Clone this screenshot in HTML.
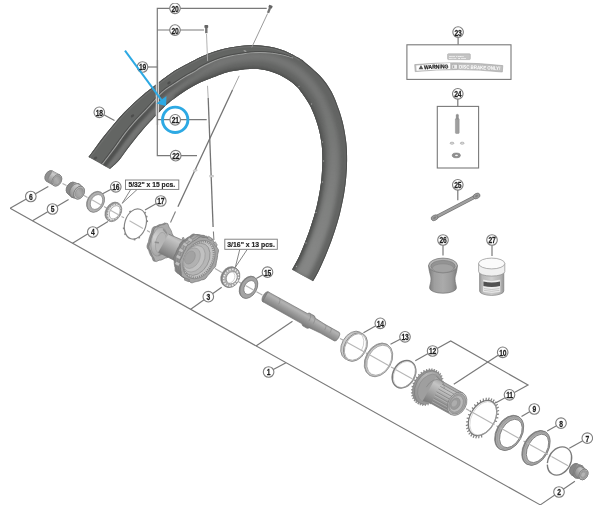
<!DOCTYPE html>
<html><head><meta charset="utf-8"><title>Wheel exploded view</title>
<style>
html,body{margin:0;padding:0;background:#fff;}
svg{display:block}
.n{font-family:"Liberation Sans",sans-serif;font-weight:bold;fill:#1e1e1e;stroke:#1e1e1e;stroke-width:0.25px;letter-spacing:-0.3px}
.t{font-family:"Liberation Sans",sans-serif;font-weight:bold;fill:#222;stroke:#222;stroke-width:0.2px}
</style></head><body>
<svg width="600" height="511" viewBox="0 0 600 511">
<rect width="600" height="511" fill="#fff"/>
<defs><filter id="softrim" color-interpolation-filters="sRGB" x="0" y="0" width="100%" height="100%"><feGaussianBlur stdDeviation="0.45"/><feComponentTransfer><feFuncR type="linear" slope="0.9" intercept="0.12"/><feFuncG type="linear" slope="0.9" intercept="0.125"/><feFuncB type="linear" slope="0.9" intercept="0.12"/></feComponentTransfer></filter><filter id="soft" color-interpolation-filters="sRGB" x="0" y="0" width="100%" height="100%"><feGaussianBlur stdDeviation="0.5"/><feComponentTransfer><feFuncR type="linear" slope="0.82" intercept="0.18"/><feFuncG type="linear" slope="0.82" intercept="0.18"/><feFuncB type="linear" slope="0.82" intercept="0.18"/></feComponentTransfer></filter><filter id="softtxt" color-interpolation-filters="sRGB" x="-5%" y="-5%" width="110%" height="110%"><feGaussianBlur stdDeviation="0.4"/></filter></defs>
<g filter="url(#softrim)">
<defs><clipPath id="rimclip"><path d="M88.5,157.0 C89.5,155.7 91.7,152.7 94.3,149.2 C96.9,145.7 100.8,140.3 104.1,136.1 C107.4,131.9 110.6,127.9 114.0,124.0 C117.3,120.1 120.7,116.1 124.1,112.6 C127.4,109.0 130.6,105.9 133.9,102.9 C137.1,99.9 141.0,96.7 143.6,94.5 C146.1,92.3 146.9,91.8 149.4,89.8 C151.9,87.8 156.0,84.4 158.6,82.4 C161.1,80.4 162.0,79.6 164.8,77.7 C167.5,75.7 171.7,72.7 175.0,70.5 C178.4,68.4 181.6,66.7 185.0,64.9 C188.3,63.1 192.4,61.2 194.9,59.9 C197.5,58.6 197.6,58.4 200.1,57.3 C202.7,56.1 206.9,54.2 210.2,53.0 C213.6,51.7 216.9,50.7 220.2,49.8 C223.5,48.9 226.8,48.1 230.2,47.4 C233.5,46.8 236.8,46.3 240.1,45.9 C243.4,45.6 246.7,45.2 250.0,45.2 C253.3,45.1 256.6,45.2 260.0,45.5 C263.3,45.7 266.6,46.1 270.0,46.8 C273.3,47.4 276.7,48.2 280.0,49.3 C283.4,50.4 286.9,51.8 290.3,53.4 C293.7,55.0 298.2,57.6 300.5,59.0 C302.8,60.4 300.7,58.6 304.0,61.5 C307.3,64.4 315.9,71.2 320.5,76.3 C325.1,81.3 328.5,86.2 331.6,91.7 C334.7,97.3 337.0,104.1 339.0,109.8 C341.0,115.5 342.4,120.4 343.6,126.0 C344.8,131.6 345.8,137.7 346.4,143.3 C347.0,149.0 347.1,154.4 347.1,160.0 C347.1,165.6 346.8,171.3 346.3,176.7 C345.9,182.0 345.2,187.0 344.4,192.0 C343.6,197.0 342.7,201.5 341.5,206.7 C340.4,211.9 339.0,217.7 337.3,223.3 C335.7,228.8 333.8,234.4 331.8,240.0 C329.7,245.6 327.4,251.5 325.2,256.8 C322.9,262.1 320.4,267.7 318.4,271.7 C316.3,275.8 313.9,279.6 313.0,281.2 L292.2,269.7 C293.3,267.5 296.8,261.6 299.1,256.6 C301.3,251.7 303.8,245.6 305.9,240.1 C308.1,234.5 310.1,228.9 311.8,223.3 C313.6,217.8 315.3,212.2 316.6,206.7 C317.9,201.1 319.1,195.0 319.9,190.0 C320.7,185.0 321.2,181.7 321.6,176.7 C322.0,171.7 322.4,165.6 322.4,160.0 C322.4,154.4 322.2,149.0 321.5,143.3 C320.7,137.6 319.7,132.0 317.9,125.9 C316.0,119.8 313.4,112.4 310.5,106.5 C307.5,100.6 302.5,93.9 300.0,90.5 C297.6,87.1 297.6,87.6 295.9,86.1 C294.2,84.5 292.6,82.9 289.9,81.1 C287.3,79.3 283.3,76.8 279.9,75.1 C276.6,73.5 273.3,72.3 269.9,71.3 C266.6,70.3 263.3,69.7 260.0,69.3 C256.6,68.9 253.3,68.8 250.0,68.9 C246.7,69.0 243.3,69.4 239.9,69.9 C236.6,70.3 233.3,70.7 229.9,71.5 C226.6,72.3 222.3,73.8 219.8,74.7 C217.3,75.5 217.2,75.7 214.7,76.7 C212.2,77.6 208.2,79.0 204.9,80.4 C201.7,81.7 198.5,83.2 195.2,84.9 C192.0,86.7 188.7,88.6 185.4,90.7 C182.2,92.8 178.1,95.7 175.5,97.7 C172.9,99.6 171.6,100.5 169.6,102.2 C167.6,103.9 165.6,105.6 163.3,107.9 C161.0,110.1 158.2,113.1 155.7,115.7 C153.2,118.3 151.4,120.2 148.4,123.5 C145.5,126.7 141.6,131.1 138.2,135.3 C134.8,139.4 131.3,144.0 128.0,148.3 C124.8,152.5 121.7,157.3 118.7,160.8 C115.7,164.2 111.4,167.6 110.0,169.0 Z"/></clipPath><filter id="b2" color-interpolation-filters="sRGB" x="-20%" y="-20%" width="140%" height="140%"><feGaussianBlur stdDeviation="2"/></filter><filter id="b1" color-interpolation-filters="sRGB" x="-20%" y="-20%" width="140%" height="140%"><feGaussianBlur stdDeviation="1"/></filter><filter id="b05" color-interpolation-filters="sRGB"><feGaussianBlur stdDeviation="0.4"/></filter></defs>
<path d="M88.5,157.0 C89.5,155.7 91.7,152.7 94.3,149.2 C96.9,145.7 100.8,140.3 104.1,136.1 C107.4,131.9 110.6,127.9 114.0,124.0 C117.3,120.1 120.7,116.1 124.1,112.6 C127.4,109.0 130.6,105.9 133.9,102.9 C137.1,99.9 141.0,96.7 143.6,94.5 C146.1,92.3 146.9,91.8 149.4,89.8 C151.9,87.8 156.0,84.4 158.6,82.4 C161.1,80.4 162.0,79.6 164.8,77.7 C167.5,75.7 171.7,72.7 175.0,70.5 C178.4,68.4 181.6,66.7 185.0,64.9 C188.3,63.1 192.4,61.2 194.9,59.9 C197.5,58.6 197.6,58.4 200.1,57.3 C202.7,56.1 206.9,54.2 210.2,53.0 C213.6,51.7 216.9,50.7 220.2,49.8 C223.5,48.9 226.8,48.1 230.2,47.4 C233.5,46.8 236.8,46.3 240.1,45.9 C243.4,45.6 246.7,45.2 250.0,45.2 C253.3,45.1 256.6,45.2 260.0,45.5 C263.3,45.7 266.6,46.1 270.0,46.8 C273.3,47.4 276.7,48.2 280.0,49.3 C283.4,50.4 286.9,51.8 290.3,53.4 C293.7,55.0 298.2,57.6 300.5,59.0 C302.8,60.4 300.7,58.6 304.0,61.5 C307.3,64.4 315.9,71.2 320.5,76.3 C325.1,81.3 328.5,86.2 331.6,91.7 C334.7,97.3 337.0,104.1 339.0,109.8 C341.0,115.5 342.4,120.4 343.6,126.0 C344.8,131.6 345.8,137.7 346.4,143.3 C347.0,149.0 347.1,154.4 347.1,160.0 C347.1,165.6 346.8,171.3 346.3,176.7 C345.9,182.0 345.2,187.0 344.4,192.0 C343.6,197.0 342.7,201.5 341.5,206.7 C340.4,211.9 339.0,217.7 337.3,223.3 C335.7,228.8 333.8,234.4 331.8,240.0 C329.7,245.6 327.4,251.5 325.2,256.8 C322.9,262.1 320.4,267.7 318.4,271.7 C316.3,275.8 313.9,279.6 313.0,281.2 L292.2,269.7 C293.3,267.5 296.8,261.6 299.1,256.6 C301.3,251.7 303.8,245.6 305.9,240.1 C308.1,234.5 310.1,228.9 311.8,223.3 C313.6,217.8 315.3,212.2 316.6,206.7 C317.9,201.1 319.1,195.0 319.9,190.0 C320.7,185.0 321.2,181.7 321.6,176.7 C322.0,171.7 322.4,165.6 322.4,160.0 C322.4,154.4 322.2,149.0 321.5,143.3 C320.7,137.6 319.7,132.0 317.9,125.9 C316.0,119.8 313.4,112.4 310.5,106.5 C307.5,100.6 302.5,93.9 300.0,90.5 C297.6,87.1 297.6,87.6 295.9,86.1 C294.2,84.5 292.6,82.9 289.9,81.1 C287.3,79.3 283.3,76.8 279.9,75.1 C276.6,73.5 273.3,72.3 269.9,71.3 C266.6,70.3 263.3,69.7 260.0,69.3 C256.6,68.9 253.3,68.8 250.0,68.9 C246.7,69.0 243.3,69.4 239.9,69.9 C236.6,70.3 233.3,70.7 229.9,71.5 C226.6,72.3 222.3,73.8 219.8,74.7 C217.3,75.5 217.2,75.7 214.7,76.7 C212.2,77.6 208.2,79.0 204.9,80.4 C201.7,81.7 198.5,83.2 195.2,84.9 C192.0,86.7 188.7,88.6 185.4,90.7 C182.2,92.8 178.1,95.7 175.5,97.7 C172.9,99.6 171.6,100.5 169.6,102.2 C167.6,103.9 165.6,105.6 163.3,107.9 C161.0,110.1 158.2,113.1 155.7,115.7 C153.2,118.3 151.4,120.2 148.4,123.5 C145.5,126.7 141.6,131.1 138.2,135.3 C134.8,139.4 131.3,144.0 128.0,148.3 C124.8,152.5 121.7,157.3 118.7,160.8 C115.7,164.2 111.4,167.6 110.0,169.0 Z" fill="#4c4c4c"/>
<g clip-path="url(#rimclip)">
<path d="M106.1,166.8 C106.8,166.2 108.7,164.2 110.0,162.9 C111.2,161.6 112.6,160.3 113.8,158.9 C115.0,157.5 116.1,156.0 117.2,154.6 C118.3,153.1 119.4,151.6 120.5,150.1 C121.6,148.6 122.7,147.1 123.8,145.7 C124.9,144.2 126.1,142.7 127.2,141.3 C128.3,139.8 129.5,138.3 130.6,136.9 C131.8,135.4 132.9,134.0 134.1,132.5 C135.2,131.1 136.4,129.7 137.6,128.3 C138.8,126.9 140.1,125.5 141.3,124.1 C142.5,122.7 143.8,121.3 145.0,120.0 C146.2,118.6 147.6,117.3 148.8,115.9 C150.0,114.5 151.2,112.9 152.4,111.5 C153.7,110.0 154.9,108.6 156.2,107.2 C157.4,105.7 158.7,104.3 160.0,102.8 C161.3,101.4 162.6,100.0 164.0,98.7 C165.4,97.3 166.7,95.9 168.1,94.6 C169.6,93.3 171.0,92.0 172.5,90.7 C174.0,89.4 175.5,88.2 177.0,87.0 C178.5,85.7 180.0,84.5 181.6,83.3 C183.2,82.1 184.8,81.0 186.4,79.9 C188.0,78.7 189.7,77.7 191.3,76.6 C193.0,75.5 194.7,74.5 196.4,73.4 C198.1,72.4 199.8,71.4 201.5,70.5 C203.3,69.6 205.1,68.8 206.9,68.0 C208.7,67.2 210.5,66.5 212.3,65.7 C214.1,65.0 215.9,64.3 217.8,63.6 C219.6,62.9 221.5,62.3 223.4,61.7 C225.2,61.1 227.1,60.5 229.0,60.0 C230.9,59.5 232.8,59.1 234.8,58.7 C236.7,58.3 238.6,58.0 240.6,57.7 C242.5,57.4 244.5,57.1 246.5,56.9 C248.4,56.7 250.4,56.6 252.4,56.5 C254.3,56.4 256.3,56.5 258.3,56.5 C260.3,56.6 262.3,56.6 264.2,56.9 C266.2,57.1 268.1,57.5 270.0,58.0 C271.9,58.4 273.8,58.8 275.7,59.4 C277.5,60.1 279.3,60.9 281.1,61.7 C282.9,62.4 284.7,63.2 286.5,64.0 C288.2,64.9 289.9,66.0 291.5,67.0 C293.2,68.1 294.9,69.0 296.5,70.2 C298.0,71.3 299.5,72.7 300.9,74.0 C302.4,75.3 303.8,76.6 305.2,78.0 C306.6,79.4 308.0,80.8 309.2,82.2 C310.5,83.7 311.7,85.2 312.9,86.8 C314.0,88.4 315.0,90.1 316.1,91.7 C317.2,93.3 318.4,94.9 319.3,96.6 C320.3,98.3 321.2,100.0 322.0,101.8 C322.8,103.5 323.4,105.4 324.1,107.2 C324.8,109.1 325.5,110.9 326.2,112.7 C326.9,114.5 327.6,116.3 328.2,118.2 C328.8,120.1 329.1,122.0 329.6,123.9 C330.1,125.8 330.5,127.7 330.9,129.6 C331.3,131.5 331.8,133.4 332.1,135.3 C332.4,137.2 332.6,139.2 332.8,141.1 C333.0,143.0 333.2,145.0 333.4,146.9 C333.5,148.9 333.6,150.8 333.7,152.7 C333.7,154.7 333.7,156.6 333.7,158.6 C333.7,160.5 333.7,162.5 333.6,164.4 C333.5,166.3 333.4,168.3 333.3,170.2 C333.1,172.2 333.0,174.1 332.9,176.0 C332.7,178.0 332.4,179.9 332.2,181.8 C331.9,183.7 331.6,185.7 331.4,187.6 C331.1,189.5 330.8,191.4 330.4,193.3 C330.1,195.2 329.7,197.1 329.3,199.0 C329.0,200.9 328.6,202.8 328.2,204.7 C327.8,206.6 327.3,208.4 326.8,210.3 C326.4,212.2 325.8,214.0 325.3,215.9 C324.8,217.8 324.4,219.6 323.8,221.5 C323.3,223.3 322.7,225.2 322.1,227.0 C321.4,228.8 320.8,230.7 320.2,232.5 C319.5,234.3 318.9,236.2 318.3,238.0 C317.6,239.8 316.9,241.6 316.2,243.4 C315.5,245.2 314.8,247.0 314.1,248.8 C313.3,250.6 312.6,252.3 311.8,254.1 C311.1,255.9 310.3,257.7 309.5,259.4 C308.7,261.2 307.9,262.9 307.0,264.7 C306.2,266.4 305.2,268.1 304.3,269.8 C303.4,271.5 302.0,274.0 301.6,274.9 " fill="none" stroke="#606060" stroke-width="9" filter="url(#b2)"/>
<linearGradient id="gend" gradientUnits="userSpaceOnUse" x1="0" y1="100" x2="0" y2="250"><stop offset="0" stop-color="#727272" stop-opacity="0"/><stop offset="1" stop-color="#727272" stop-opacity="1"/></linearGradient>
<path d="M291.5,67.0 C292.3,67.6 294.9,69.0 296.5,70.2 C298.0,71.3 299.5,72.7 300.9,74.0 C302.4,75.3 303.8,76.6 305.2,78.0 C306.6,79.4 308.0,80.8 309.2,82.2 C310.5,83.7 311.7,85.2 312.9,86.8 C314.0,88.4 315.0,90.1 316.1,91.7 C317.2,93.3 318.4,94.9 319.3,96.6 C320.3,98.3 321.2,100.0 322.0,101.8 C322.8,103.5 323.4,105.4 324.1,107.2 C324.8,109.1 325.5,110.9 326.2,112.7 C326.9,114.5 327.6,116.3 328.2,118.2 C328.8,120.1 329.1,122.0 329.6,123.9 C330.1,125.8 330.5,127.7 330.9,129.6 C331.3,131.5 331.8,133.4 332.1,135.3 C332.4,137.2 332.6,139.2 332.8,141.1 C333.0,143.0 333.2,145.0 333.4,146.9 C333.5,148.9 333.6,150.8 333.7,152.7 C333.7,154.7 333.7,156.6 333.7,158.6 C333.7,160.5 333.7,162.5 333.6,164.4 C333.5,166.3 333.4,168.3 333.3,170.2 C333.1,172.2 333.0,174.1 332.9,176.0 C332.7,178.0 332.4,179.9 332.2,181.8 C331.9,183.7 331.6,185.7 331.4,187.6 C331.1,189.5 330.8,191.4 330.4,193.3 C330.1,195.2 329.7,197.1 329.3,199.0 C329.0,200.9 328.6,202.8 328.2,204.7 C327.8,206.6 327.3,208.4 326.8,210.3 C326.4,212.2 325.8,214.0 325.3,215.9 C324.8,217.8 324.4,219.6 323.8,221.5 C323.3,223.3 322.7,225.2 322.1,227.0 C321.4,228.8 320.8,230.7 320.2,232.5 C319.5,234.3 318.9,236.2 318.3,238.0 C317.6,239.8 316.9,241.6 316.2,243.4 C315.5,245.2 314.8,247.0 314.1,248.8 C313.3,250.6 312.6,252.3 311.8,254.1 C311.1,255.9 310.3,257.7 309.5,259.4 C308.7,261.2 307.9,262.9 307.0,264.7 C306.2,266.4 305.2,268.1 304.3,269.8 C303.4,271.5 302.0,274.0 301.6,274.9 " fill="none" stroke="url(#gend)" stroke-width="13" filter="url(#b2)"/>
<path d="M175.5,97.7 C177.2,96.5 182.2,92.8 185.4,90.7 C188.7,88.6 192.0,86.7 195.2,84.9 C198.5,83.2 201.7,81.7 204.9,80.4 C208.2,79.0 212.2,77.6 214.7,76.7 C217.2,75.7 217.3,75.5 219.8,74.7 C222.3,73.8 226.6,72.3 229.9,71.5 C233.3,70.7 236.6,70.3 239.9,69.9 C243.3,69.4 246.7,69.0 250.0,68.9 C253.3,68.8 256.6,68.9 260.0,69.3 C263.3,69.7 266.6,70.3 269.9,71.3 C273.3,72.3 276.6,73.5 279.9,75.1 C283.3,76.8 287.3,79.3 289.9,81.1 C292.6,82.9 294.2,84.5 295.9,86.1 C297.6,87.6 297.6,87.1 300.0,90.5 C302.5,93.9 307.5,100.6 310.5,106.5 C313.4,112.4 316.0,119.8 317.9,125.9 C319.7,132.0 320.7,137.6 321.5,143.3 C322.2,149.0 322.4,154.4 322.4,160.0 C322.4,165.6 322.0,171.7 321.6,176.7 C321.2,181.7 320.7,185.0 319.9,190.0 C319.1,195.0 317.9,201.1 316.6,206.7 C315.3,212.2 313.6,217.8 311.8,223.3 C310.1,228.9 308.1,234.5 305.9,240.1 C303.8,245.6 301.3,251.7 299.1,256.6 C296.8,261.6 293.3,267.5 292.2,269.7 " fill="none" stroke="#3c3c3c" stroke-width="4.5" filter="url(#b1)"/>
<linearGradient id="gfade" gradientUnits="userSpaceOnUse" x1="130" y1="0" x2="215" y2="0"><stop offset="0" stop-color="#363636" stop-opacity="1"/><stop offset="1" stop-color="#363636" stop-opacity="0"/></linearGradient>
<path d="M101.5,163.5 C103.6,160.8 110.2,152.1 114.0,147.0 C117.8,141.9 120.7,137.3 124.0,133.0 C127.3,128.7 130.7,124.8 134.0,121.0 C137.3,117.2 140.5,114.2 144.0,110.5 C147.5,106.8 152.5,101.3 155.0,98.5 C157.5,95.7 157.3,95.5 159.0,93.8 C160.7,92.1 162.3,90.5 165.0,88.5 C167.7,86.5 171.7,84.2 175.0,82.0 C178.3,79.8 181.7,77.5 185.0,75.5 C188.3,73.5 192.5,71.5 195.0,70.0 C197.5,68.5 197.5,67.9 200.0,66.5 C202.5,65.1 206.7,63.0 210.0,61.5 C213.3,60.0 218.3,58.3 220.0,57.7 " fill="none" stroke="url(#gfade)" stroke-width="5" transform="translate(2.2,2.4)" filter="url(#b1)"/>
<path d="M88.5,157.0 C89.5,155.7 91.7,152.7 94.3,149.2 C96.9,145.7 100.8,140.3 104.1,136.1 C107.4,131.9 110.6,127.9 114.0,124.0 C117.3,120.1 120.7,116.1 124.1,112.6 C127.4,109.0 130.6,105.9 133.9,102.9 C137.1,99.9 141.0,96.7 143.6,94.5 C146.1,92.3 146.9,91.8 149.4,89.8 C151.9,87.8 156.0,84.4 158.6,82.4 C161.1,80.4 162.0,79.6 164.8,77.7 C167.5,75.7 171.7,72.7 175.0,70.5 C178.4,68.4 181.6,66.7 185.0,64.9 C188.3,63.1 192.4,61.2 194.9,59.9 C197.5,58.6 197.6,58.4 200.1,57.3 C202.7,56.1 206.9,54.2 210.2,53.0 C213.6,51.7 216.9,50.7 220.2,49.8 C223.5,48.9 226.8,48.1 230.2,47.4 C233.5,46.8 236.8,46.3 240.1,45.9 C243.4,45.6 246.7,45.2 250.0,45.2 C253.3,45.1 256.6,45.2 260.0,45.5 C263.3,45.7 266.6,46.1 270.0,46.8 C273.3,47.4 276.7,48.2 280.0,49.3 C283.4,50.4 286.9,51.8 290.3,53.4 C293.7,55.0 298.8,58.1 300.5,59.0 L292.0,57.0 C291.2,56.7 289.0,55.8 287.0,55.2 C285.0,54.6 282.8,54.0 280.0,53.5 C277.2,53.0 273.3,52.3 270.0,52.0 C266.7,51.7 263.3,51.5 260.0,51.5 C256.7,51.5 253.3,51.6 250.0,51.9 C246.7,52.2 243.3,52.8 240.0,53.3 C236.7,53.8 233.3,54.3 230.0,55.0 C226.7,55.7 223.3,56.6 220.0,57.7 C216.7,58.8 213.3,60.0 210.0,61.5 C206.7,63.0 202.5,65.1 200.0,66.5 C197.5,67.9 197.5,68.5 195.0,70.0 C192.5,71.5 188.3,73.5 185.0,75.5 C181.7,77.5 178.3,79.8 175.0,82.0 C171.7,84.2 167.7,86.5 165.0,88.5 C162.3,90.5 160.7,92.1 159.0,93.8 C157.3,95.5 157.5,95.7 155.0,98.5 C152.5,101.3 147.5,106.8 144.0,110.5 C140.5,114.2 137.3,117.2 134.0,121.0 C130.7,124.8 127.3,128.7 124.0,133.0 C120.7,137.3 117.8,141.9 114.0,147.0 C110.2,152.1 103.6,160.8 101.5,163.5 Z" fill="#4d4d4d"/>
<path d="M88.5,157.0 C89.5,155.7 91.7,152.7 94.3,149.2 C96.9,145.7 100.8,140.3 104.1,136.1 C107.4,131.9 110.6,127.9 114.0,124.0 C117.3,120.1 120.7,116.1 124.1,112.6 C127.4,109.0 130.6,105.9 133.9,102.9 C137.1,99.9 141.0,96.7 143.6,94.5 C146.1,92.3 146.9,91.8 149.4,89.8 C151.9,87.8 156.0,84.4 158.6,82.4 C161.1,80.4 162.0,79.6 164.8,77.7 C167.5,75.7 171.7,72.7 175.0,70.5 C178.4,68.4 181.6,66.7 185.0,64.9 C188.3,63.1 192.4,61.2 194.9,59.9 C197.5,58.6 197.6,58.4 200.1,57.3 C202.7,56.1 206.9,54.2 210.2,53.0 C213.6,51.7 216.9,50.7 220.2,49.8 C223.5,48.9 226.8,48.1 230.2,47.4 C233.5,46.8 236.8,46.3 240.1,45.9 C243.4,45.6 246.7,45.2 250.0,45.2 C253.3,45.1 256.6,45.2 260.0,45.5 C263.3,45.7 266.6,46.1 270.0,46.8 C273.3,47.4 276.7,48.2 280.0,49.3 C283.4,50.4 286.9,51.8 290.3,53.4 C293.7,55.0 298.8,58.1 300.5,59.0 " fill="none" stroke="#5a5a5a" stroke-width="4.2" filter="url(#b05)"/>
<path d="M88.5,157.0 C89.5,155.7 91.7,152.7 94.3,149.2 C96.9,145.7 100.8,140.3 104.1,136.1 C107.4,131.9 110.6,127.9 114.0,124.0 C117.3,120.1 120.7,116.1 124.1,112.6 C127.4,109.0 130.6,105.9 133.9,102.9 C137.1,99.9 141.0,96.7 143.6,94.5 C146.1,92.3 146.9,91.8 149.4,89.8 C151.9,87.8 156.0,84.4 158.6,82.4 C161.1,80.4 162.0,79.6 164.8,77.7 C167.5,75.7 171.7,72.7 175.0,70.5 C178.4,68.4 181.6,66.7 185.0,64.9 C188.3,63.1 192.4,61.2 194.9,59.9 C197.5,58.6 197.6,58.4 200.1,57.3 C202.7,56.1 206.9,54.2 210.2,53.0 C213.6,51.7 216.9,50.7 220.2,49.8 C223.5,48.9 226.8,48.1 230.2,47.4 C233.5,46.8 236.8,46.3 240.1,45.9 C243.4,45.6 246.7,45.2 250.0,45.2 C253.3,45.1 256.6,45.2 260.0,45.5 C263.3,45.7 266.6,46.1 270.0,46.8 C273.3,47.4 276.7,48.2 280.0,49.3 C283.4,50.4 286.9,51.8 290.3,53.4 C293.7,55.0 298.2,57.6 300.5,59.0 C302.8,60.4 300.7,58.6 304.0,61.5 C307.3,64.4 315.9,71.2 320.5,76.3 C325.1,81.3 328.5,86.2 331.6,91.7 C334.7,97.3 337.0,104.1 339.0,109.8 C341.0,115.5 342.4,120.4 343.6,126.0 C344.8,131.6 345.8,137.7 346.4,143.3 C347.0,149.0 347.1,154.4 347.1,160.0 C347.1,165.6 346.8,171.3 346.3,176.7 C345.9,182.0 345.2,187.0 344.4,192.0 C343.6,197.0 342.7,201.5 341.5,206.7 C340.4,211.9 339.0,217.7 337.3,223.3 C335.7,228.8 333.8,234.4 331.8,240.0 C329.7,245.6 327.4,251.5 325.2,256.8 C322.9,262.1 320.4,267.7 318.4,271.7 C316.3,275.8 313.9,279.6 313.0,281.2 " fill="none" stroke="#343434" stroke-width="1.8" filter="url(#b05)"/>
<path d="M101.5,163.5 C103.6,160.8 110.2,152.1 114.0,147.0 C117.8,141.9 120.7,137.3 124.0,133.0 C127.3,128.7 130.7,124.8 134.0,121.0 C137.3,117.2 140.5,114.2 144.0,110.5 C147.5,106.8 152.5,101.3 155.0,98.5 C157.5,95.7 157.3,95.5 159.0,93.8 C160.7,92.1 162.3,90.5 165.0,88.5 C167.7,86.5 171.7,84.2 175.0,82.0 C178.3,79.8 181.7,77.5 185.0,75.5 C188.3,73.5 192.5,71.5 195.0,70.0 C197.5,68.5 197.5,67.9 200.0,66.5 C202.5,65.1 206.7,63.0 210.0,61.5 C213.3,60.0 216.7,58.8 220.0,57.7 C223.3,56.6 226.7,55.7 230.0,55.0 C233.3,54.3 236.7,53.8 240.0,53.3 C243.3,52.8 246.7,52.2 250.0,51.9 C253.3,51.6 256.7,51.5 260.0,51.5 C263.3,51.5 266.7,51.7 270.0,52.0 C273.3,52.3 277.2,53.0 280.0,53.5 C282.8,54.0 285.0,54.6 287.0,55.2 C289.0,55.8 291.2,56.7 292.0,57.0 " fill="none" stroke="#8c8c8c" stroke-width="1.1" transform="translate(0.8,0.9)" filter="url(#b05)"/>
<path d="M101.5,163.5 C103.6,160.8 110.2,152.1 114.0,147.0 C117.8,141.9 120.7,137.3 124.0,133.0 C127.3,128.7 130.7,124.8 134.0,121.0 C137.3,117.2 140.5,114.2 144.0,110.5 C147.5,106.8 152.5,101.3 155.0,98.5 C157.5,95.7 157.3,95.5 159.0,93.8 C160.7,92.1 162.3,90.5 165.0,88.5 C167.7,86.5 171.7,84.2 175.0,82.0 C178.3,79.8 181.7,77.5 185.0,75.5 C188.3,73.5 192.5,71.5 195.0,70.0 C197.5,68.5 197.5,67.9 200.0,66.5 C202.5,65.1 206.7,63.0 210.0,61.5 C213.3,60.0 216.7,58.8 220.0,57.7 C223.3,56.6 226.7,55.7 230.0,55.0 C233.3,54.3 236.7,53.8 240.0,53.3 C243.3,52.8 246.7,52.2 250.0,51.9 C253.3,51.6 256.7,51.5 260.0,51.5 C263.3,51.5 266.7,51.7 270.0,52.0 C273.3,52.3 277.2,53.0 280.0,53.5 C282.8,54.0 285.0,54.6 287.0,55.2 C289.0,55.8 291.2,56.7 292.0,57.0 " fill="none" stroke="#333" stroke-width="1.0" filter="url(#b05)"/>
<path d="M110.0,169.0 C111.4,167.6 115.7,164.2 118.7,160.8 C121.7,157.3 124.8,152.5 128.0,148.3 C131.3,144.0 134.8,139.4 138.2,135.3 C141.6,131.1 145.5,126.7 148.4,123.5 C151.4,120.2 153.2,118.3 155.7,115.7 C158.2,113.1 161.0,110.1 163.3,107.9 C165.6,105.6 167.6,103.9 169.6,102.2 C171.6,100.5 172.9,99.6 175.5,97.7 C178.1,95.7 182.2,92.8 185.4,90.7 C188.7,88.6 192.0,86.7 195.2,84.9 C198.5,83.2 201.7,81.7 204.9,80.4 C208.2,79.0 212.2,77.6 214.7,76.7 C217.2,75.7 217.3,75.5 219.8,74.7 C222.3,73.8 226.6,72.3 229.9,71.5 C233.3,70.7 236.6,70.3 239.9,69.9 C243.3,69.4 246.7,69.0 250.0,68.9 C253.3,68.8 256.6,68.9 260.0,69.3 C263.3,69.7 266.6,70.3 269.9,71.3 C273.3,72.3 276.6,73.5 279.9,75.1 C283.3,76.8 287.3,79.3 289.9,81.1 C292.6,82.9 294.2,84.5 295.9,86.1 C297.6,87.6 297.6,87.1 300.0,90.5 C302.5,93.9 307.5,100.6 310.5,106.5 C313.4,112.4 316.0,119.8 317.9,125.9 C319.7,132.0 320.7,137.6 321.5,143.3 C322.2,149.0 322.4,154.4 322.4,160.0 C322.4,165.6 322.0,171.7 321.6,176.7 C321.2,181.7 320.7,185.0 319.9,190.0 C319.1,195.0 317.9,201.1 316.6,206.7 C315.3,212.2 313.6,217.8 311.8,223.3 C310.1,228.9 308.1,234.5 305.9,240.1 C303.8,245.6 301.3,251.7 299.1,256.6 C296.8,261.6 293.3,267.5 292.2,269.7 " fill="none" stroke="#363636" stroke-width="1.6" filter="url(#b05)"/>
<circle cx="322.5" cy="142.0" r="0.7" fill="#8a8a8a"/>
<circle cx="323.5" cy="161.0" r="0.7" fill="#8a8a8a"/>
<circle cx="322.5" cy="182.0" r="0.7" fill="#8a8a8a"/>
<circle cx="316.0" cy="212.5" r="0.7" fill="#8a8a8a"/>
<circle cx="306.0" cy="243.0" r="0.7" fill="#8a8a8a"/>
<circle cx="296.5" cy="266.5" r="0.7" fill="#8a8a8a"/>
<circle cx="311.5" cy="104.0" r="0.7" fill="#8a8a8a"/>
<circle cx="299.0" cy="86.5" r="0.7" fill="#8a8a8a"/>
</g>
<ellipse cx="95.5" cy="158.0" rx="1.9" ry="1.3" fill="#343434" transform="rotate(-35 95.5 158.0)"/>
<ellipse cx="132.5" cy="115.8" rx="1.9" ry="1.3" fill="#343434" transform="rotate(-35 132.5 115.8)"/>
<ellipse cx="169.0" cy="82.8" rx="1.9" ry="1.3" fill="#343434" transform="rotate(-35 169.0 82.8)"/>
<ellipse cx="245" cy="51" rx="1.6" ry="0.7" fill="#888" transform="rotate(25 245 51)"/>
</g><g filter="url(#soft)">
<path d="M267.6,13.5 L251.7,47.5 " fill="none" stroke="#777" stroke-width="0.9" />
<path d="M206.5,34.0 L207.6,61.0 " fill="none" stroke="#999" stroke-width="0.9" />
<path d="M239.2,75.8 L232.5,90.0 " fill="none" stroke="#666" stroke-width="0.7" />
<path d="M232.5,90.0 L177.9,206.7 " fill="none" stroke="#555" stroke-width="1.3" />
<path d="M175.5,211.5 L170.5,222.5 " fill="none" stroke="#666" stroke-width="1.1" />
<path d="M207.5,85.8 L208.2,98.0 " fill="none" stroke="#777" stroke-width="0.7" />
<path d="M208.2,98.0 L213.1,227.0 " fill="none" stroke="#555" stroke-width="1.3" />
<path d="M213.4,231.5 L213.9,240.0 " fill="none" stroke="#666" stroke-width="1.1" />
<rect x="209.8" y="175.2" width="3.6" height="1.8" fill="#ccc" stroke="#999" stroke-width="0.4"/>
<rect x="193.4" y="169.6" width="3.6" height="1.8" fill="#ccc" stroke="#999" stroke-width="0.4" transform="rotate(-25 195.2 170.5)"/>
<g transform="translate(206.3 29.0) rotate(0)"><rect x="-1.9" y="-4" width="3.8" height="3" rx="0.8" fill="#444"/><rect x="-1.2" y="-1.2" width="2.4" height="5.4" fill="#555"/></g>
<g transform="translate(269.6 9.0) rotate(22)"><rect x="-1.9" y="-4" width="3.8" height="3" rx="0.8" fill="#444"/><rect x="-1.2" y="-1.2" width="2.4" height="5.4" fill="#555"/></g>
<path d="M10.1,208.3 L540.3,504.9 L574.9,481.3 " fill="none" stroke="#5c5c5c" stroke-width="1.2" />
<path d="M10.1,208.3 L48.3,186.6 " fill="none" stroke="#5c5c5c" stroke-width="1.2" />
<path d="M32.5,220.8 L68.6,199.6 " fill="none" stroke="#5c5c5c" stroke-width="1.2" />
<path d="M72.5,243.2 L108.0,221.5 " fill="none" stroke="#5c5c5c" stroke-width="1.2" />
<path d="M190.7,309.3 L221.7,287.3 " fill="none" stroke="#5c5c5c" stroke-width="1.2" />
<path d="M256.0,345.9 L292.5,321.3 " fill="none" stroke="#5c5c5c" stroke-width="1.2" />
<path d="M286.0,362.7 L268.6,372.0 " fill="none" stroke="#5c5c5c" stroke-width="1.2" />
<path d="M405.0,336.8 L390.5,344.3 " fill="none" stroke="#5c5c5c" stroke-width="1.2" />
<path d="M380.3,323.3 L363.5,332.7 " fill="none" stroke="#5c5c5c" stroke-width="1.2" />
<path d="M415.3,360.8 L432.6,351.0 L450.7,341.0 L528.0,385.0 L496.0,402.7 " fill="none" stroke="#5c5c5c" stroke-width="1.2" />
<path d="M502.7,352.3 L453.8,384.3 " fill="none" stroke="#5c5c5c" stroke-width="1.2" />
<path d="M534.3,409.0 L521.5,416.5 " fill="none" stroke="#5c5c5c" stroke-width="1.2" />
<path d="M561.0,423.2 L547.2,431.0 " fill="none" stroke="#5c5c5c" stroke-width="1.2" />
<path d="M587.3,438.2 L569.3,448.3 " fill="none" stroke="#5c5c5c" stroke-width="1.2" />
<path d="M115.8,186.8 L101.7,194.3 " fill="none" stroke="#5c5c5c" stroke-width="1.2" />
<path d="M160.8,201.0 L145.0,210.0 " fill="none" stroke="#5c5c5c" stroke-width="1.2" />
<path d="M267.5,272.2 L256.3,278.5 " fill="none" stroke="#5c5c5c" stroke-width="1.2" />
<path d="M157.3,60.0 L157.3,125.0 " fill="none" stroke="#e8e8e8" stroke-width="3.0" />
<path d="M266.7,8.3 L157.3,8.3 L157.3,155.7 L197.0,155.7 " fill="none" stroke="#5c5c5c" stroke-width="1.2" />
<path d="M157.3,30.0 L204.0,30.0 " fill="none" stroke="#5c5c5c" stroke-width="1.2" />
<path d="M142.5,67.0 L157.3,67.0 " fill="none" stroke="#5c5c5c" stroke-width="1.2" />
<path d="M157.3,119.6 L206.7,119.6 " fill="none" stroke="#5c5c5c" stroke-width="1.2" />
<path d="M99.3,112.3 L114.5,120.5 " fill="none" stroke="#5c5c5c" stroke-width="1.2" />
<path d="M458.1,32.1 L458.1,44.8 " fill="none" stroke="#5c5c5c" stroke-width="1.2" />
<path d="M457.8,93.8 L457.8,106.4 " fill="none" stroke="#5c5c5c" stroke-width="1.2" />
<path d="M457.8,184.8 L457.8,200.3 " fill="none" stroke="#5c5c5c" stroke-width="1.2" />
<path d="M443.0,240.0 L443.0,255.6 " fill="none" stroke="#5c5c5c" stroke-width="1.2" />
<path d="M492.0,240.0 L492.0,256.0 " fill="none" stroke="#5c5c5c" stroke-width="1.2" />
<rect x="406.9" y="44.8" width="104.1" height="34.6" fill="#fff" stroke="#5c5c5c" stroke-width="1.1"/>
<rect x="437.3" y="106.4" width="41.3" height="61.6" fill="#fff" stroke="#5c5c5c" stroke-width="1.1"/>
<path d="M130.8,189.4 L122.2,203.3 L137.2,189.4 " fill="none" stroke="#5c5c5c" stroke-width="0.9" />
<rect x="125.5" y="180.0" width="53.3" height="9.4" fill="#fff" stroke="#5c5c5c" stroke-width="0.9"/>
<path d="M239.8,249.3 L235.3,267.3 L247.3,249.3 " fill="none" stroke="#5c5c5c" stroke-width="0.9" />
<rect x="224.8" y="239.2" width="52.5" height="10.1" fill="#fff" stroke="#5c5c5c" stroke-width="0.9"/>
<path d="M62.5,183.4 L66.5,185.6 " fill="none" stroke="#9a9a9a" stroke-width="1.1" />
<path d="M84.0,195.4 L87.5,197.4 " fill="none" stroke="#9a9a9a" stroke-width="1.1" />
<path d="M104.0,206.6 L106.5,208.0 " fill="none" stroke="#9a9a9a" stroke-width="1.1" />
<path d="M121.5,216.4 L124.0,217.8 " fill="none" stroke="#9a9a9a" stroke-width="1.1" />
<path d="M147.0,230.6 L150.0,232.3 " fill="none" stroke="#9a9a9a" stroke-width="1.1" />
<path d="M215.0,268.6 L221.8,272.4 " fill="none" stroke="#9a9a9a" stroke-width="1.1" />
<path d="M238.5,281.7 L241.5,283.4 " fill="none" stroke="#9a9a9a" stroke-width="1.1" />
<path d="M256.5,291.8 L262.3,295.0 " fill="none" stroke="#9a9a9a" stroke-width="1.1" />
<path d="M340.0,338.4 L343.0,340.1 " fill="none" stroke="#9a9a9a" stroke-width="1.1" />
<path d="M366.0,352.9 L368.0,354.1 " fill="none" stroke="#9a9a9a" stroke-width="1.1" />
<path d="M391.0,366.9 L394.0,368.6 " fill="none" stroke="#9a9a9a" stroke-width="1.1" />
<path d="M415.0,380.3 L418.0,382.0 " fill="none" stroke="#9a9a9a" stroke-width="1.1" />
<path d="M466.0,408.8 L469.5,410.7 " fill="none" stroke="#9a9a9a" stroke-width="1.1" />
<path d="M496.5,425.8 L498.0,426.7 " fill="none" stroke="#9a9a9a" stroke-width="1.1" />
<path d="M523.5,440.9 L525.5,442.0 " fill="none" stroke="#9a9a9a" stroke-width="1.1" />
<path d="M549.5,455.4 L551.0,456.3 " fill="none" stroke="#9a9a9a" stroke-width="1.1" />
<path d="M570.0,466.9 L572.0,468.0 " fill="none" stroke="#9a9a9a" stroke-width="1.1" />
<linearGradient id="g1" gradientUnits="userSpaceOnUse" x1="56.4" y1="172.9" x2="50.4" y2="183.7"><stop offset="0" stop-color="#9a9a9a"/><stop offset="0.22" stop-color="#c0c0c0"/><stop offset="0.55" stop-color="#9a9a9a"/><stop offset="1" stop-color="#6e6e6e"/></linearGradient>
<ellipse cx="49.6" cy="176.2" rx="4.2" ry="5.9" transform="rotate(29.19 49.6 176.2)" fill="url(#g1)" stroke="#5e5e5e" stroke-width="0.7" />
<path d="M52.5,171.1 L59.9,174.9 L53.9,185.6 L46.8,181.4 Z" fill="url(#g1)" stroke="none" stroke-width="0.8" stroke-linejoin="round" />
<path d="M52.5,171.1 L59.9,174.9 " fill="none" stroke="#5e5e5e" stroke-width="0.7" />
<path d="M46.8,181.4 L53.9,185.6 " fill="none" stroke="#5e5e5e" stroke-width="0.7" />
<ellipse cx="56.9" cy="180.3" rx="4.4" ry="6.1" transform="rotate(29.19 56.9 180.3)" fill="url(#g1)" stroke="#5e5e5e" stroke-width="0.7" />
<ellipse cx="49.6" cy="176.2" rx="4.2" ry="5.9" transform="rotate(29.19 49.6 176.2)" fill="#787878" stroke="#606060" stroke-width="0.6" />
<path d="M52.5,171.1 L59.9,174.9 L53.9,185.6 L46.8,181.4 Z" fill="url(#g1)" stroke="none" stroke-width="0.8" stroke-linejoin="round" />
<ellipse cx="56.9" cy="180.3" rx="4.4" ry="6.1" transform="rotate(29.19 56.9 180.3)" fill="#a8a8a8" stroke="#606060" stroke-width="0.7" />
<linearGradient id="g2" gradientUnits="userSpaceOnUse" x1="59.3" y1="175.9" x2="54.5" y2="184.6"><stop offset="0" stop-color="#7a7a7a"/><stop offset="0.5" stop-color="#9c9c9c"/><stop offset="1" stop-color="#8a8a8a"/></linearGradient>
<ellipse cx="57.0" cy="180.3" rx="3.5" ry="4.9" transform="rotate(29.19 57.0 180.3)" fill="url(#g2)" stroke="#6a6a6a" stroke-width="0.5" />
<ellipse cx="52.7" cy="177.9" rx="4.3" ry="6.0" transform="rotate(29.19 52.7 177.9)" fill="none" stroke="#6a6a6a" stroke-width="0.6" stroke-dasharray="10.5 40" stroke-dashoffset="-9.3"/>
<linearGradient id="g3" gradientUnits="userSpaceOnUse" x1="79.0" y1="183.9" x2="71.6" y2="197.2"><stop offset="0" stop-color="#848484"/><stop offset="0.22" stop-color="#aaaaaa"/><stop offset="0.55" stop-color="#848484"/><stop offset="1" stop-color="#626262"/></linearGradient>
<ellipse cx="71.5" cy="188.4" rx="4.8" ry="6.6" transform="rotate(29.19 71.5 188.4)" fill="url(#g3)" stroke="#585858" stroke-width="0.7" />
<path d="M74.7,182.6 L79.2,184.1 L71.9,197.2 L68.2,194.2 Z" fill="url(#g3)" stroke="none" stroke-width="0.8" stroke-linejoin="round" />
<path d="M74.7,182.6 L79.2,184.1 " fill="none" stroke="#585858" stroke-width="0.7" />
<path d="M68.2,194.2 L71.9,197.2 " fill="none" stroke="#585858" stroke-width="0.7" />
<ellipse cx="75.6" cy="190.7" rx="5.4" ry="7.5" transform="rotate(29.19 75.6 190.7)" fill="url(#g3)" stroke="#585858" stroke-width="0.7" />
<ellipse cx="71.5" cy="188.4" rx="4.8" ry="6.6" transform="rotate(29.19 71.5 188.4)" fill="#6e6e6e" stroke="#5e5e5e" stroke-width="0.6" />
<path d="M74.7,182.6 L79.2,184.1 L71.9,197.2 L68.2,194.2 Z" fill="url(#g3)" stroke="none" stroke-width="0.8" stroke-linejoin="round" />
<linearGradient id="g4" gradientUnits="userSpaceOnUse" x1="79.0" y1="183.9" x2="71.6" y2="197.2"><stop offset="0" stop-color="#a2a2a2"/><stop offset="0.22" stop-color="#c4c4c4"/><stop offset="0.55" stop-color="#a2a2a2"/><stop offset="1" stop-color="#767676"/></linearGradient>
<ellipse cx="75.6" cy="190.7" rx="5.4" ry="7.5" transform="rotate(29.19 75.6 190.7)" fill="url(#g4)" stroke="#585858" stroke-width="0.7" />
<path d="M79.2,184.1 L82.5,186.8 L75.8,198.6 L71.9,197.2 Z" fill="url(#g4)" stroke="none" stroke-width="0.8" stroke-linejoin="round" />
<path d="M79.2,184.1 L82.5,186.8 " fill="none" stroke="#585858" stroke-width="0.7" />
<path d="M71.9,197.2 L75.8,198.6 " fill="none" stroke="#585858" stroke-width="0.7" />
<ellipse cx="79.1" cy="192.7" rx="4.9" ry="6.8" transform="rotate(29.19 79.1 192.7)" fill="url(#g4)" stroke="#585858" stroke-width="0.7" />
<ellipse cx="79.1" cy="192.7" rx="4.9" ry="6.8" transform="rotate(29.19 79.1 192.7)" fill="#adadad" stroke="#606060" stroke-width="0.7" />
<linearGradient id="g5" gradientUnits="userSpaceOnUse" x1="81.2" y1="188.1" x2="76.4" y2="196.9"><stop offset="0" stop-color="#7a7a7a"/><stop offset="0.5" stop-color="#9a9a9a"/><stop offset="1" stop-color="#888"/></linearGradient>
<ellipse cx="79.3" cy="192.8" rx="3.7" ry="5.2" transform="rotate(29.19 79.3 192.8)" fill="url(#g5)" stroke="#6a6a6a" stroke-width="0.5" />
<ellipse cx="95.3" cy="201.7" rx="8.0" ry="10.9" transform="rotate(29.19 95.3 201.7)" fill="#7a7a7a" stroke="#666" stroke-width="0.6" />
<ellipse cx="95.8" cy="202.0" rx="8.0" ry="10.9" transform="rotate(29.19 95.8 202.0)" fill="#a0a0a0" stroke="#666" stroke-width="0.7" />
<ellipse cx="96.5" cy="202.0" rx="5.7" ry="7.9" transform="rotate(29.19 96.5 202.0)" fill="#fff" stroke="#666" stroke-width="0.7" />
<path d="M91.5,199.6 L101.0,204.9 " fill="none" stroke="#aaa" stroke-width="1.1" />
<ellipse cx="112.9" cy="211.6" rx="7.2" ry="10.1" transform="rotate(29.19 112.9 211.6)" fill="#808080" stroke="#666" stroke-width="0.6" />
<ellipse cx="113.8" cy="212.1" rx="7.2" ry="10.1" transform="rotate(29.19 113.8 212.1)" fill="#a4a4a4" stroke="#666" stroke-width="0.7" />
<ellipse cx="114.1" cy="212.2" rx="6.0" ry="8.6" transform="rotate(29.19 114.1 212.2)" fill="#e4e4e4" stroke="#6a6a6a" stroke-width="0.9" stroke-dasharray="1.2 1.6"/>
<ellipse cx="114.7" cy="212.3" rx="4.8" ry="7.1" transform="rotate(29.19 114.7 212.3)" fill="#fff" stroke="#777" stroke-width="0.6" />
<path d="M110.0,209.9 L118.5,214.7 " fill="none" stroke="#aaa" stroke-width="1.1" />
<ellipse cx="135.4" cy="224.0" rx="10.6" ry="15.4" transform="rotate(17.00 135.4 224.0)" fill="none" stroke="#6a6a6a" stroke-width="1.2" />
<path d="M144.6,213.2 L145.7,212.2 " fill="none" stroke="#6e6e6e" stroke-width="1.7" />
<path d="M146.1,216.9 L147.4,216.3 " fill="none" stroke="#6e6e6e" stroke-width="1.7" />
<path d="M146.5,221.4 L148.0,221.2 " fill="none" stroke="#6e6e6e" stroke-width="1.7" />
<path d="M138.8,237.0 L139.5,238.4 " fill="none" stroke="#6e6e6e" stroke-width="1.7" />
<path d="M134.6,238.9 L134.7,240.4 " fill="none" stroke="#6e6e6e" stroke-width="1.7" />
<path d="M125.6,233.7 L124.4,234.6 " fill="none" stroke="#6e6e6e" stroke-width="1.7" />
<path d="M124.3,228.2 L122.9,228.5 " fill="none" stroke="#6e6e6e" stroke-width="1.7" />
<path d="M130.5,212.2 L129.7,210.9 " fill="none" stroke="#6e6e6e" stroke-width="1.7" />
<path d="M129.5,220.8 L143.0,228.4 " fill="none" stroke="#aaa" stroke-width="1.1" />
<path d="M170.4,244.2 L170.0,246.0 L169.5,247.8 L168.8,249.6 L168.1,251.2 L167.6,253.2 L167.1,255.4 L166.0,257.0 L164.6,257.6 L163.2,257.7 L162.1,258.4 L160.9,259.1 L159.7,259.5 L158.5,259.8 L157.3,259.9 L156.0,260.5 L154.6,261.3 L153.4,260.9 L152.6,259.3 L152.1,257.4 L151.3,256.3 L150.5,255.2 L149.9,253.8 L149.3,252.4 L148.9,250.8 L148.1,249.4 L147.2,247.9 L147.0,246.0 L147.6,243.8 L148.5,241.9 L148.8,240.0 L149.2,238.2 L149.8,236.4 L150.4,234.6 L151.2,233.0 L151.7,231.0 L152.2,228.7 L153.2,227.2 L154.7,226.6 L156.0,226.5 L157.2,225.7 L158.4,225.1 L159.6,224.6 L160.7,224.4 L161.9,224.3 L163.2,223.7 L164.7,222.9 L165.9,223.3 L166.7,224.9 L167.2,226.7 L168.0,227.8 L168.8,229.0 L169.4,230.4 L170.0,231.8 L170.4,233.4 L171.2,234.8 L172.1,236.3 L172.3,238.2 L171.6,240.4 L170.8,242.3 Z" fill="#7a7a7a" stroke="#5a5a5a" stroke-width="0.7" stroke-linejoin="round" />
<path d="M172.2,244.5 L171.8,246.4 L171.2,248.2 L170.6,249.9 L169.9,251.5 L169.4,253.5 L168.8,255.8 L167.8,257.4 L166.4,257.9 L165.0,258.0 L163.8,258.8 L162.7,259.4 L161.5,259.9 L160.3,260.2 L159.1,260.2 L157.8,260.9 L156.4,261.6 L155.1,261.2 L154.4,259.6 L153.8,257.8 L153.0,256.7 L152.3,255.5 L151.6,254.2 L151.1,252.7 L150.6,251.1 L149.9,249.8 L149.0,248.3 L148.8,246.3 L149.4,244.2 L150.3,242.2 L150.6,240.3 L151.0,238.5 L151.5,236.7 L152.2,235.0 L152.9,233.3 L153.4,231.3 L154.0,229.1 L155.0,227.5 L156.4,227.0 L157.8,226.9 L159.0,226.1 L160.1,225.4 L161.3,225.0 L162.5,224.7 L163.7,224.6 L165.0,224.0 L166.4,223.3 L167.7,223.6 L168.4,225.2 L169.0,227.1 L169.8,228.2 L170.5,229.4 L171.2,230.7 L171.7,232.2 L172.2,233.8 L172.9,235.1 L173.8,236.6 L174.0,238.6 L173.4,240.7 L172.5,242.7 Z" fill="#9a9a9a" stroke="#5a5a5a" stroke-width="0.7" stroke-linejoin="round" />
<linearGradient id="g6" gradientUnits="userSpaceOnUse" x1="161.9" y1="228.3" x2="156.6" y2="255.8"><stop offset="0" stop-color="#a4a4a4"/><stop offset="0.4" stop-color="#c6c6c6"/><stop offset="1" stop-color="#929292"/></linearGradient>
<ellipse cx="159.1" cy="241.7" rx="7.8" ry="14.6" transform="rotate(11.0 159.1 241.7)" fill="url(#g6)" stroke="#747474" stroke-width="0.5" />
<ellipse cx="160.9" cy="242.8" rx="5.2" ry="10.6" transform="rotate(11.0 160.9 242.8)" fill="#a6a6a6" stroke="#808080" stroke-width="0.5" />
<path d="M163.2,229.3 L166.7,233.5 " fill="none" stroke="#767676" stroke-width="1.4" />
<path d="M154.7,242.2 L158.9,242.7 " fill="none" stroke="#767676" stroke-width="1.4" />
<path d="M158.4,255.7 L163.2,253.0 " fill="none" stroke="#767676" stroke-width="1.4" />
<linearGradient id="g7" gradientUnits="userSpaceOnUse" x1="178.5" y1="236.7" x2="167.3" y2="256.8"><stop offset="0" stop-color="#969696"/><stop offset="0.2" stop-color="#b8b8b8"/><stop offset="0.55" stop-color="#949494"/><stop offset="1" stop-color="#606060"/></linearGradient>
<path d="M168.5,234.1 L196.3,246.0 L185.2,265.9 L158.3,252.3 Z" fill="url(#g7)" stroke="none" stroke-width="0.8" stroke-linejoin="round" />
<path d="M168.5,234.1 L196.3,246.0 " fill="none" stroke="#5a5a5a" stroke-width="0.7" />
<path d="M158.3,252.3 L185.2,265.9 " fill="none" stroke="#5a5a5a" stroke-width="0.7" />
<ellipse cx="171.8" cy="246.7" rx="10.6" ry="15.4" transform="rotate(29.19 171.8 246.7)" fill="none" stroke="#747474" stroke-width="2.4" stroke-dasharray="27 100" stroke-dashoffset="60"/>
<ellipse cx="172.8" cy="247.3" rx="10.6" ry="15.4" transform="rotate(29.19 172.8 247.3)" fill="none" stroke="#a8a8a8" stroke-width="0.8" stroke-dasharray="27 100" stroke-dashoffset="60"/>
<path d="M206.3,263.7 L205.2,264.9 L204.3,266.2 L203.4,267.5 L202.4,268.7 L201.4,269.8 L200.3,270.9 L199.3,272.2 L198.3,273.6 L197.1,274.5 L195.7,274.9 L194.4,275.1 L193.2,275.6 L191.9,276.1 L190.7,276.5 L189.5,276.7 L188.2,276.9 L186.9,277.4 L185.6,277.9 L184.4,277.8 L183.4,277.0 L182.5,276.2 L181.5,275.7 L180.5,275.2 L179.6,274.6 L178.7,273.8 L177.9,273.0 L176.9,272.4 L175.9,271.8 L175.2,270.7 L175.1,269.3 L175.1,267.7 L174.7,266.5 L174.5,265.2 L174.3,263.8 L174.2,262.5 L174.2,261.0 L174.0,259.7 L173.7,258.2 L174.0,256.7 L174.7,255.1 L175.5,253.7 L176.1,252.2 L176.6,250.8 L177.3,249.3 L178.0,247.9 L178.9,246.6 L179.5,245.1 L180.1,243.5 L181.1,242.2 L182.4,241.3 L183.7,240.6 L184.9,239.6 L186.0,238.7 L187.2,237.8 L188.4,237.1 L189.6,236.4 L190.8,235.5 L192.1,234.5 L193.4,234.0 L194.6,234.2 L195.8,234.6 L197.0,234.5 L198.2,234.6 L199.3,234.7 L200.4,235.0 L201.5,235.3 L202.8,235.3 L204.0,235.4 L205.0,236.1 L205.6,237.2 L206.1,238.5 L206.8,239.4 L207.5,240.4 L208.0,241.4 L208.5,242.6 L209.0,243.8 L209.7,244.8 L210.3,245.9 L210.6,247.3 L210.2,248.9 L209.8,250.5 L209.7,251.9 L209.5,253.4 L209.3,254.8 L208.9,256.3 L208.5,257.8 L208.3,259.3 L208.1,261.0 L207.4,262.5 Z" fill="#6c6c6c" stroke="#505050" stroke-width="0.7" stroke-linejoin="round" />
<linearGradient id="g8" gradientUnits="userSpaceOnUse" x1="207.2" y1="236.7" x2="183.8" y2="278.6"><stop offset="0" stop-color="#8a8a8a"/><stop offset="0.3" stop-color="#a0a0a0"/><stop offset="0.7" stop-color="#808080"/><stop offset="1" stop-color="#606060"/></linearGradient>
<path d="M209.0,265.2 L207.8,266.4 L206.9,267.8 L205.9,269.0 L204.9,270.3 L203.9,271.5 L202.8,272.6 L201.8,273.9 L200.7,275.3 L199.4,276.3 L198.1,276.6 L196.7,276.8 L195.4,277.4 L194.2,277.9 L192.9,278.3 L191.6,278.5 L190.3,278.7 L189.0,279.2 L187.6,279.7 L186.4,279.6 L185.3,278.8 L184.4,278.0 L183.4,277.5 L182.4,276.9 L181.4,276.3 L180.6,275.5 L179.7,274.7 L178.7,274.1 L177.6,273.4 L176.9,272.3 L176.8,270.8 L176.8,269.3 L176.4,268.0 L176.2,266.6 L176.0,265.2 L175.9,263.8 L175.9,262.4 L175.6,261.0 L175.4,259.5 L175.6,257.9 L176.4,256.3 L177.2,254.8 L177.8,253.3 L178.4,251.8 L179.0,250.4 L179.8,248.9 L180.6,247.5 L181.2,246.0 L181.9,244.3 L183.0,243.0 L184.3,242.1 L185.6,241.4 L186.8,240.4 L188.0,239.4 L189.2,238.5 L190.4,237.8 L191.7,237.1 L192.9,236.1 L194.2,235.1 L195.6,234.7 L196.9,234.9 L198.1,235.2 L199.3,235.2 L200.5,235.2 L201.7,235.4 L202.8,235.6 L203.9,236.0 L205.2,236.0 L206.5,236.1 L207.6,236.8 L208.2,238.0 L208.7,239.3 L209.4,240.2 L210.1,241.2 L210.7,242.3 L211.2,243.4 L211.6,244.7 L212.3,245.7 L213.1,246.9 L213.3,248.3 L213.0,249.9 L212.5,251.6 L212.4,253.1 L212.2,254.6 L212.0,256.1 L211.6,257.6 L211.2,259.1 L211.0,260.7 L210.8,262.3 L210.1,263.9 Z" fill="url(#g8)" stroke="#5a5a5a" stroke-width="0.5" stroke-linejoin="round" />
<path d="M211.8,266.8 L210.7,268.0 L209.7,269.4 L208.8,270.7 L207.8,272.0 L206.7,273.1 L205.6,274.3 L204.5,275.6 L203.5,277.1 L202.2,278.0 L200.8,278.4 L199.4,278.6 L198.1,279.2 L196.8,279.6 L195.5,280.0 L194.2,280.3 L192.9,280.5 L191.6,281.0 L190.2,281.5 L188.9,281.4 L187.9,280.6 L186.9,279.7 L185.9,279.2 L184.9,278.6 L183.9,278.0 L183.0,277.2 L182.1,276.4 L181.1,275.8 L180.0,275.1 L179.3,274.0 L179.1,272.4 L179.1,270.9 L178.8,269.6 L178.5,268.2 L178.3,266.8 L178.2,265.3 L178.2,263.9 L177.9,262.4 L177.7,260.9 L177.9,259.3 L178.7,257.7 L179.6,256.2 L180.1,254.7 L180.7,253.2 L181.4,251.7 L182.2,250.2 L183.0,248.8 L183.6,247.2 L184.3,245.6 L185.4,244.3 L186.7,243.4 L188.1,242.6 L189.2,241.6 L190.5,240.6 L191.7,239.7 L192.9,239.0 L194.2,238.3 L195.5,237.3 L196.8,236.3 L198.2,235.8 L199.5,236.0 L200.7,236.4 L201.9,236.3 L203.2,236.4 L204.4,236.5 L205.6,236.8 L206.7,237.2 L208.0,237.2 L209.3,237.3 L210.4,238.0 L211.0,239.2 L211.5,240.5 L212.2,241.4 L212.9,242.5 L213.5,243.6 L214.1,244.8 L214.5,246.0 L215.2,247.1 L216.0,248.2 L216.2,249.7 L215.9,251.3 L215.4,253.0 L215.3,254.5 L215.1,256.0 L214.9,257.6 L214.5,259.1 L214.1,260.6 L213.9,262.3 L213.7,263.9 L213.0,265.5 Z" fill="url(#g8)" stroke="#5a5a5a" stroke-width="0.5" stroke-linejoin="round" />
<path d="M214.1,268.1 L212.9,269.3 L212.0,270.7 L211.0,272.0 L210.0,273.2 L208.9,274.4 L207.8,275.6 L206.8,276.9 L205.7,278.4 L204.4,279.3 L203.0,279.7 L201.6,279.9 L200.3,280.5 L199.0,281.0 L197.7,281.3 L196.4,281.6 L195.1,281.8 L193.7,282.3 L192.3,282.8 L191.0,282.7 L190.0,281.9 L189.1,281.0 L188.0,280.5 L187.0,280.0 L186.0,279.3 L185.1,278.5 L184.3,277.6 L183.2,277.0 L182.1,276.4 L181.4,275.3 L181.2,273.7 L181.2,272.1 L180.8,270.8 L180.6,269.4 L180.4,268.0 L180.3,266.6 L180.3,265.1 L180.0,263.7 L179.7,262.2 L180.0,260.5 L180.8,258.9 L181.6,257.4 L182.2,255.9 L182.8,254.4 L183.5,252.9 L184.2,251.4 L185.1,250.0 L185.7,248.4 L186.4,246.7 L187.5,245.4 L188.8,244.5 L190.2,243.7 L191.4,242.7 L192.6,241.7 L193.8,240.9 L195.1,240.1 L196.4,239.4 L197.7,238.4 L199.0,237.4 L200.4,236.9 L201.7,237.1 L202.9,237.5 L204.1,237.5 L205.4,237.5 L206.6,237.7 L207.8,237.9 L208.9,238.3 L210.2,238.3 L211.6,238.4 L212.6,239.1 L213.2,240.3 L213.7,241.6 L214.5,242.6 L215.2,243.6 L215.8,244.7 L216.3,245.9 L216.8,247.2 L217.5,248.3 L218.3,249.4 L218.5,250.9 L218.2,252.5 L217.7,254.2 L217.6,255.7 L217.4,257.3 L217.2,258.8 L216.8,260.3 L216.4,261.9 L216.2,263.5 L215.9,265.2 L215.3,266.8 Z" fill="#929292" stroke="#505050" stroke-width="0.7" stroke-linejoin="round" />
<path d="M189.0,237.3 L192.9,239.5 L191.3,242.5 L187.3,240.3 Z" fill="#b0b0b0" stroke="#5e5e5e" stroke-width="0.5" stroke-linejoin="round" />
<path d="M184.0,242.0 L187.9,244.2 L186.2,247.1 L182.3,244.9 Z" fill="#b0b0b0" stroke="#5e5e5e" stroke-width="0.5" stroke-linejoin="round" />
<path d="M180.0,247.8 L183.9,250.0 L182.3,252.9 L178.3,250.7 Z" fill="#b0b0b0" stroke="#5e5e5e" stroke-width="0.5" stroke-linejoin="round" />
<path d="M177.3,254.3 L181.3,256.5 L179.6,259.5 L175.7,257.3 Z" fill="#b0b0b0" stroke="#5e5e5e" stroke-width="0.5" stroke-linejoin="round" />
<path d="M176.3,261.2 L180.2,263.3 L178.5,266.3 L174.6,264.1 Z" fill="#b0b0b0" stroke="#5e5e5e" stroke-width="0.5" stroke-linejoin="round" />
<clipPath id="hubopen"><ellipse cx="199.0" cy="259.6" rx="14.4" ry="20.4" transform="rotate(29.19 199.0 259.6)"/></clipPath>
<ellipse cx="199.0" cy="259.6" rx="14.4" ry="20.4" transform="rotate(29.19 199.0 259.6)" fill="#b6b6b6" stroke="#5a5a5a" stroke-width="0.6" />
<g clip-path="url(#hubopen)">
<ellipse cx="198.7" cy="259.5" rx="13.4" ry="19.2" transform="rotate(29.19 198.7 259.5)" fill="none" stroke="#6c6c6c" stroke-width="2.0" stroke-dasharray="1.0 1.1"/>
<ellipse cx="196.7" cy="259.3" rx="11.9" ry="17.2" transform="rotate(29.19 196.7 259.3)" fill="#a6a6a6" stroke="#6a6a6a" stroke-width="0.6" />
<ellipse cx="194.2" cy="258.8" rx="9.8" ry="14.2" transform="rotate(29.19 194.2 258.8)" fill="#b4b4b4" stroke="#777" stroke-width="0.5" />
<ellipse cx="191.8" cy="258.2" rx="7.6" ry="11.0" transform="rotate(29.19 191.8 258.2)" fill="#a0a0a0" stroke="#808080" stroke-width="0.5" />
<ellipse cx="189.9" cy="257.5" rx="4.8" ry="7.0" transform="rotate(29.19 189.9 257.5)" fill="#8e8e8e" stroke="#777" stroke-width="0.5" />
</g>
<path d="M208.7,236.2 L212.3,238.9 L211.1,241.0 L207.4,238.5 Z" fill="#9a9a9a" stroke="#555" stroke-width="0.5" stroke-linejoin="round" />
<path d="M215.3,241.7 L217.4,245.2 L215.5,246.4 L213.6,243.3 Z" fill="#9a9a9a" stroke="#555" stroke-width="0.5" stroke-linejoin="round" />
<path d="M184.2,280.0 L188.4,281.7 L189.6,279.6 L185.4,277.9 Z" fill="#808080" stroke="#555" stroke-width="0.5" stroke-linejoin="round" />
<ellipse cx="229.8" cy="276.8" rx="8.5" ry="10.6" transform="rotate(29.19 229.8 276.8)" fill="#707070" stroke="#5a5a5a" stroke-width="0.6" />
<ellipse cx="230.8" cy="277.4" rx="8.5" ry="10.6" transform="rotate(29.19 230.8 277.4)" fill="#8e8e8e" stroke="#5a5a5a" stroke-width="0.7" />
<ellipse cx="231.1" cy="277.6" rx="7.0" ry="8.7" transform="rotate(29.19 231.1 277.6)" fill="#9a9a9a" stroke="#f0f0f0" stroke-width="1.5" stroke-dasharray="1.3 1.5"/>
<ellipse cx="231.7" cy="277.7" rx="5.2" ry="6.4" transform="rotate(29.19 231.7 277.7)" fill="#fff" stroke="#666" stroke-width="0.7" />
<ellipse cx="229.9" cy="277.4" rx="4.7" ry="6.0" transform="rotate(29.19 229.9 277.4)" fill="none" stroke="#aaa" stroke-width="0.6" />
<ellipse cx="248.2" cy="287.1" rx="8.0" ry="11.7" transform="rotate(29.19 248.2 287.1)" fill="#6a6a6a" stroke="#555" stroke-width="0.6" />
<ellipse cx="248.8" cy="287.5" rx="8.0" ry="11.7" transform="rotate(29.19 248.8 287.5)" fill="#8f8f8f" stroke="#5a5a5a" stroke-width="0.7" />
<ellipse cx="249.6" cy="287.5" rx="5.2" ry="7.4" transform="rotate(29.19 249.6 287.5)" fill="#fff" stroke="#5a5a5a" stroke-width="0.7" />
<path d="M245.5,285.6 L253.5,290.1 " fill="none" stroke="#a6a6a6" stroke-width="1.1" />
<linearGradient id="g9" gradientUnits="userSpaceOnUse" x1="294.6" y1="305.6" x2="288.2" y2="316.9"><stop offset="0" stop-color="#8a8a8a"/><stop offset="0.25" stop-color="#a2a2a2"/><stop offset="0.6" stop-color="#808080"/><stop offset="1" stop-color="#5e5e5e"/></linearGradient>
<ellipse cx="265.5" cy="296.8" rx="2.6" ry="5.6" transform="rotate(29.19 265.5 296.8)" fill="#6e6e6e" stroke="#555" stroke-width="0.6" />
<path d="M267.9,291.7 L307.3,313.5 L309.7,313.3 L314.1,315.7 L315.1,318.1 L325.2,324.5 L339.2,332.3 L339.9,334.0 L338.7,337.7 L336.2,340.7 L334.4,340.9 L320.4,333.1 L309.6,327.9 L307.1,328.3 L302.7,325.8 L301.7,323.6 L262.5,301.5 Z" fill="url(#g9)" stroke="#555" stroke-width="0.7" stroke-linejoin="round" />
<ellipse cx="276.5" cy="303.0" rx="2.5" ry="5.6" transform="rotate(29.19 276.5 303.0)" fill="none" stroke="#666" stroke-width="0.5" stroke-dasharray="12.3 100" stroke-dashoffset="-18.5"/>
<ellipse cx="306.2" cy="319.5" rx="3.2" ry="7.2" transform="rotate(29.19 306.2 319.5)" fill="none" stroke="#666" stroke-width="0.5" stroke-dasharray="15.8 100" stroke-dashoffset="-23.8"/>
<ellipse cx="310.6" cy="322.0" rx="3.2" ry="7.2" transform="rotate(29.19 310.6 322.0)" fill="none" stroke="#666" stroke-width="0.5" stroke-dasharray="15.8 100" stroke-dashoffset="-23.8"/>
<ellipse cx="322.8" cy="328.8" rx="2.2" ry="4.9" transform="rotate(29.19 322.8 328.8)" fill="none" stroke="#666" stroke-width="0.5" stroke-dasharray="10.8 100" stroke-dashoffset="-16.2"/>
<ellipse cx="328.1" cy="331.7" rx="2.2" ry="4.9" transform="rotate(29.19 328.1 331.7)" fill="none" stroke="#666" stroke-width="0.5" stroke-dasharray="10.8 100" stroke-dashoffset="-16.2"/>
<ellipse cx="352.8" cy="345.6" rx="10.9" ry="15.3" transform="rotate(29.19 352.8 345.6)" fill="#c4c4c4" stroke="#6a6a6a" stroke-width="0.8" />
<path d="M360.3,332.2 L362.9,333.6 L347.9,360.4 L345.3,358.9 Z" fill="#c4c4c4" stroke="none" stroke-width="0.8" stroke-linejoin="round" />
<ellipse cx="355.4" cy="347.0" rx="10.9" ry="15.3" transform="rotate(29.19 355.4 347.0)" fill="#cfcfcf" stroke="#6a6a6a" stroke-width="0.8" />
<ellipse cx="355.4" cy="347.0" rx="9.9" ry="14.1" transform="rotate(29.19 355.4 347.0)" fill="#fff" stroke="#777" stroke-width="0.6" />
<ellipse cx="352.8" cy="345.6" rx="9.9" ry="14.1" transform="rotate(29.19 352.8 345.6)" fill="none" stroke="#aaa" stroke-width="0.6" stroke-dasharray="38 100" stroke-dashoffset="-48"/>
<path d="M345.0,341.2 L364.0,351.8 " fill="none" stroke="#a6a6a6" stroke-width="1.1" />
<ellipse cx="378.2" cy="359.7" rx="12.6" ry="17.7" transform="rotate(29.19 378.2 359.7)" fill="#989898" stroke="#707070" stroke-width="0.7" />
<ellipse cx="378.8" cy="360.1" rx="12.6" ry="17.7" transform="rotate(29.19 378.8 360.1)" fill="#bcbcbc" stroke="#707070" stroke-width="0.7" />
<ellipse cx="379.3" cy="360.2" rx="11.2" ry="16.0" transform="rotate(29.19 379.3 360.2)" fill="#fff" stroke="#787878" stroke-width="0.6" />
<path d="M369.0,354.6 L389.0,365.8 " fill="none" stroke="#a6a6a6" stroke-width="1.1" />
<ellipse cx="404.0" cy="374.2" rx="10.8" ry="14.5" transform="rotate(29.19 404.0 374.2)" fill="none" stroke="#5f5f5f" stroke-width="1.5" />
<ellipse cx="404.5" cy="374.5" rx="10.2" ry="13.8" transform="rotate(29.19 404.5 374.5)" fill="none" stroke="#aaa" stroke-width="0.5" />
<path d="M395.5,369.4 L412.5,378.9 " fill="none" stroke="#a6a6a6" stroke-width="1.1" />
<path d="M437.1,392.7 L438.5,393.4 " fill="none" stroke="#707070" stroke-width="1.3" />
<path d="M435.4,395.3 L436.6,396.4 " fill="none" stroke="#707070" stroke-width="1.3" />
<path d="M433.3,397.7 L434.3,399.1 " fill="none" stroke="#707070" stroke-width="1.3" />
<path d="M431.0,399.8 L431.7,401.3 " fill="none" stroke="#707070" stroke-width="1.3" />
<path d="M428.6,401.3 L429.0,403.1 " fill="none" stroke="#707070" stroke-width="1.3" />
<path d="M426.1,402.4 L426.1,404.3 " fill="none" stroke="#707070" stroke-width="1.3" />
<path d="M423.6,402.9 L423.3,404.8 " fill="none" stroke="#707070" stroke-width="1.3" />
<path d="M421.2,402.9 L420.6,404.8 " fill="none" stroke="#707070" stroke-width="1.3" />
<path d="M418.9,402.3 L418.1,404.2 " fill="none" stroke="#707070" stroke-width="1.3" />
<path d="M416.9,401.2 L415.8,402.9 " fill="none" stroke="#707070" stroke-width="1.3" />
<path d="M415.3,399.6 L414.0,401.1 " fill="none" stroke="#707070" stroke-width="1.3" />
<path d="M414.0,397.6 L412.5,398.8 " fill="none" stroke="#707070" stroke-width="1.3" />
<path d="M413.1,395.2 L411.5,396.1 " fill="none" stroke="#707070" stroke-width="1.3" />
<path d="M412.7,392.5 L411.0,393.1 " fill="none" stroke="#707070" stroke-width="1.3" />
<path d="M412.8,389.6 L411.1,389.8 " fill="none" stroke="#707070" stroke-width="1.3" />
<path d="M413.3,386.6 L411.6,386.5 " fill="none" stroke="#707070" stroke-width="1.3" />
<path d="M414.3,383.6 L412.7,383.1 " fill="none" stroke="#707070" stroke-width="1.3" />
<path d="M415.6,380.7 L414.2,379.9 " fill="none" stroke="#707070" stroke-width="1.3" />
<path d="M417.4,378.0 L416.2,376.9 " fill="none" stroke="#707070" stroke-width="1.3" />
<path d="M419.4,375.6 L418.5,374.2 " fill="none" stroke="#707070" stroke-width="1.3" />
<path d="M421.7,373.6 L421.0,372.0 " fill="none" stroke="#707070" stroke-width="1.3" />
<path d="M424.2,372.0 L423.8,370.2 " fill="none" stroke="#707070" stroke-width="1.3" />
<path d="M426.7,370.9 L426.6,369.1 " fill="none" stroke="#707070" stroke-width="1.3" />
<path d="M429.2,370.4 L429.4,368.5 " fill="none" stroke="#707070" stroke-width="1.3" />
<path d="M431.6,370.4 L432.2,368.5 " fill="none" stroke="#707070" stroke-width="1.3" />
<path d="M433.8,371.0 L434.7,369.2 " fill="none" stroke="#707070" stroke-width="1.3" />
<path d="M435.8,372.1 L436.9,370.4 " fill="none" stroke="#707070" stroke-width="1.3" />
<path d="M437.5,373.7 L438.8,372.2 " fill="none" stroke="#707070" stroke-width="1.3" />
<path d="M438.8,375.7 L440.3,374.5 " fill="none" stroke="#707070" stroke-width="1.3" />
<path d="M439.6,378.2 L441.2,377.2 " fill="none" stroke="#707070" stroke-width="1.3" />
<path d="M440.0,380.9 L441.7,380.3 " fill="none" stroke="#707070" stroke-width="1.3" />
<path d="M440.0,383.8 L441.7,383.5 " fill="none" stroke="#707070" stroke-width="1.3" />
<path d="M439.5,386.8 L441.1,386.9 " fill="none" stroke="#707070" stroke-width="1.3" />
<path d="M438.5,389.8 L440.0,390.2 " fill="none" stroke="#707070" stroke-width="1.3" />
<ellipse cx="426.4" cy="386.7" rx="12.6" ry="17.7" transform="rotate(29.19 426.4 386.7)" fill="#7e7e7e" stroke="#5e5e5e" stroke-width="0.6" />
<path d="M439.0,393.7 L440.4,394.5 " fill="none" stroke="#7c7c7c" stroke-width="1.3" />
<path d="M437.3,396.4 L438.5,397.5 " fill="none" stroke="#7c7c7c" stroke-width="1.3" />
<path d="M435.2,398.8 L436.2,400.2 " fill="none" stroke="#7c7c7c" stroke-width="1.3" />
<path d="M433.0,400.8 L433.6,402.4 " fill="none" stroke="#7c7c7c" stroke-width="1.3" />
<path d="M430.5,402.4 L430.9,404.2 " fill="none" stroke="#7c7c7c" stroke-width="1.3" />
<path d="M428.0,403.5 L428.1,405.3 " fill="none" stroke="#7c7c7c" stroke-width="1.3" />
<path d="M425.5,404.0 L425.2,405.9 " fill="none" stroke="#7c7c7c" stroke-width="1.3" />
<path d="M423.1,404.0 L422.5,405.9 " fill="none" stroke="#7c7c7c" stroke-width="1.3" />
<path d="M420.8,403.4 L420.0,405.2 " fill="none" stroke="#7c7c7c" stroke-width="1.3" />
<path d="M418.9,402.3 L417.8,404.0 " fill="none" stroke="#7c7c7c" stroke-width="1.3" />
<path d="M417.2,400.7 L415.9,402.2 " fill="none" stroke="#7c7c7c" stroke-width="1.3" />
<path d="M415.9,398.7 L414.4,399.9 " fill="none" stroke="#7c7c7c" stroke-width="1.3" />
<path d="M415.1,396.2 L413.4,397.2 " fill="none" stroke="#7c7c7c" stroke-width="1.3" />
<path d="M414.6,393.5 L413.0,394.1 " fill="none" stroke="#7c7c7c" stroke-width="1.3" />
<path d="M414.7,390.6 L413.0,390.9 " fill="none" stroke="#7c7c7c" stroke-width="1.3" />
<path d="M415.2,387.6 L413.6,387.5 " fill="none" stroke="#7c7c7c" stroke-width="1.3" />
<path d="M416.2,384.6 L414.6,384.2 " fill="none" stroke="#7c7c7c" stroke-width="1.3" />
<path d="M417.6,381.7 L416.2,381.0 " fill="none" stroke="#7c7c7c" stroke-width="1.3" />
<path d="M419.3,379.0 L418.1,378.0 " fill="none" stroke="#7c7c7c" stroke-width="1.3" />
<path d="M421.4,376.7 L420.4,375.3 " fill="none" stroke="#7c7c7c" stroke-width="1.3" />
<path d="M423.6,374.6 L423.0,373.1 " fill="none" stroke="#7c7c7c" stroke-width="1.3" />
<path d="M426.1,373.1 L425.7,371.3 " fill="none" stroke="#7c7c7c" stroke-width="1.3" />
<path d="M428.6,372.0 L428.5,370.1 " fill="none" stroke="#7c7c7c" stroke-width="1.3" />
<path d="M431.1,371.5 L431.4,369.6 " fill="none" stroke="#7c7c7c" stroke-width="1.3" />
<path d="M433.5,371.5 L434.1,369.6 " fill="none" stroke="#7c7c7c" stroke-width="1.3" />
<path d="M435.8,372.1 L436.6,370.2 " fill="none" stroke="#7c7c7c" stroke-width="1.3" />
<path d="M437.7,373.2 L438.8,371.5 " fill="none" stroke="#7c7c7c" stroke-width="1.3" />
<path d="M439.4,374.8 L440.7,373.3 " fill="none" stroke="#7c7c7c" stroke-width="1.3" />
<path d="M440.7,376.8 L442.2,375.6 " fill="none" stroke="#7c7c7c" stroke-width="1.3" />
<path d="M441.5,379.2 L443.2,378.3 " fill="none" stroke="#7c7c7c" stroke-width="1.3" />
<path d="M442.0,381.9 L443.6,381.3 " fill="none" stroke="#7c7c7c" stroke-width="1.3" />
<path d="M441.9,384.8 L443.6,384.6 " fill="none" stroke="#7c7c7c" stroke-width="1.3" />
<path d="M441.4,387.8 L443.0,387.9 " fill="none" stroke="#7c7c7c" stroke-width="1.3" />
<path d="M440.4,390.8 L442.0,391.3 " fill="none" stroke="#7c7c7c" stroke-width="1.3" />
<linearGradient id="g10" gradientUnits="userSpaceOnUse" x1="436.6" y1="372.9" x2="420.0" y2="402.6"><stop offset="0" stop-color="#8a8a8a"/><stop offset="0.35" stop-color="#a8a8a8"/><stop offset="1" stop-color="#7a7a7a"/></linearGradient>
<ellipse cx="428.3" cy="387.7" rx="12.6" ry="17.7" transform="rotate(29.19 428.3 387.7)" fill="url(#g10)" stroke="#5e5e5e" stroke-width="0.6" />
<ellipse cx="429.3" cy="388.3" rx="10.6" ry="15.0" transform="rotate(29.19 429.3 388.3)" fill="#8a8a8a" stroke="#6c6c6c" stroke-width="0.5" />
<linearGradient id="g11" gradientUnits="userSpaceOnUse" x1="447.5" y1="384.1" x2="435.3" y2="406.0"><stop offset="0" stop-color="#909090"/><stop offset="0.22" stop-color="#b8b8b8"/><stop offset="0.55" stop-color="#949494"/><stop offset="1" stop-color="#626262"/></linearGradient>
<path d="M436.4,376.2 L440.5,380.3 L463.1,393.1 L451.1,414.6 L428.4,402.0 L422.8,400.7 Z" fill="url(#g11)" stroke="none" stroke-width="0.8" stroke-linejoin="round" />
<path d="M436.4,376.2 L440.5,380.3 L463.1,393.1 " fill="none" stroke="#5a5a5a" stroke-width="0.7" />
<path d="M422.8,400.7 L428.4,402.0 L451.1,414.6 " fill="none" stroke="#5a5a5a" stroke-width="0.7" />
<ellipse cx="434.4" cy="391.1" rx="8.9" ry="12.4" transform="rotate(29.19 434.4 391.1)" fill="none" stroke="#6a6a6a" stroke-width="0.6" stroke-dasharray="27 100" stroke-dashoffset="-33"/>
<path d="M442.0,384.1 L459.3,393.8 " fill="none" stroke="#6a6a6a" stroke-width="0.8" />
<path d="M441.5,385.0 L458.8,394.7 " fill="none" stroke="#b8b8b8" stroke-width="0.5" />
<path d="M440.3,386.4 L457.9,396.3 " fill="none" stroke="#6a6a6a" stroke-width="0.8" />
<path d="M439.8,387.3 L457.4,397.1 " fill="none" stroke="#b8b8b8" stroke-width="0.5" />
<path d="M438.4,389.0 L456.3,399.0 " fill="none" stroke="#6a6a6a" stroke-width="0.8" />
<path d="M437.9,389.9 L455.9,399.9 " fill="none" stroke="#b8b8b8" stroke-width="0.5" />
<path d="M436.4,391.8 L454.7,402.0 " fill="none" stroke="#6a6a6a" stroke-width="0.8" />
<path d="M435.9,392.7 L454.2,402.9 " fill="none" stroke="#b8b8b8" stroke-width="0.5" />
<path d="M435.0,394.9 L453.0,405.0 " fill="none" stroke="#6a6a6a" stroke-width="0.8" />
<path d="M434.5,395.8 L452.5,405.9 " fill="none" stroke="#b8b8b8" stroke-width="0.5" />
<path d="M433.7,398.1 L451.4,408.0 " fill="none" stroke="#6a6a6a" stroke-width="0.8" />
<path d="M433.2,399.0 L450.9,408.8 " fill="none" stroke="#b8b8b8" stroke-width="0.5" />
<path d="M432.6,400.9 L449.9,410.6 " fill="none" stroke="#6a6a6a" stroke-width="0.8" />
<path d="M432.1,401.8 L449.4,411.4 " fill="none" stroke="#b8b8b8" stroke-width="0.5" />
<ellipse cx="457.1" cy="403.8" rx="8.9" ry="12.3" transform="rotate(29.19 457.1 403.8)" fill="#bebebe" stroke="#5e5e5e" stroke-width="0.7" />
<ellipse cx="457.1" cy="403.8" rx="7.8" ry="10.8" transform="rotate(29.19 457.1 403.8)" fill="#909090" stroke="#6a6a6a" stroke-width="0.6" />
<ellipse cx="456.4" cy="403.9" rx="6.3" ry="8.8" transform="rotate(29.19 456.4 403.9)" fill="#aaaaaa" stroke="#707070" stroke-width="0.5" />
<ellipse cx="455.3" cy="403.7" rx="4.5" ry="6.2" transform="rotate(29.19 455.3 403.7)" fill="#868686" stroke="#707070" stroke-width="0.5" />
<ellipse cx="454.4" cy="403.4" rx="2.7" ry="3.8" transform="rotate(29.19 454.4 403.4)" fill="#9c9c9c" stroke="#777" stroke-width="0.4" />
<path d="M481.6,434.8 L481.7,437.5 " fill="none" stroke="#666" stroke-width="1.2" />
<path d="M479.0,435.5 L478.7,438.3 " fill="none" stroke="#666" stroke-width="1.2" />
<path d="M476.6,435.6 L475.8,438.3 " fill="none" stroke="#666" stroke-width="1.2" />
<path d="M474.3,435.0 L473.1,437.7 " fill="none" stroke="#666" stroke-width="1.2" />
<path d="M472.3,433.9 L470.7,436.3 " fill="none" stroke="#666" stroke-width="1.2" />
<path d="M470.7,432.3 L468.7,434.4 " fill="none" stroke="#666" stroke-width="1.2" />
<path d="M469.4,430.1 L467.3,431.9 " fill="none" stroke="#666" stroke-width="1.2" />
<path d="M468.6,427.6 L466.3,428.9 " fill="none" stroke="#666" stroke-width="1.2" />
<path d="M468.3,424.7 L465.9,425.6 " fill="none" stroke="#666" stroke-width="1.2" />
<path d="M468.5,421.6 L466.0,422.0 " fill="none" stroke="#666" stroke-width="1.2" />
<path d="M469.1,418.4 L466.7,418.2 " fill="none" stroke="#666" stroke-width="1.2" />
<path d="M470.2,415.1 L468.0,414.5 " fill="none" stroke="#666" stroke-width="1.2" />
<path d="M471.7,412.0 L469.7,410.9 " fill="none" stroke="#666" stroke-width="1.2" />
<path d="M473.6,409.1 L471.9,407.5 " fill="none" stroke="#666" stroke-width="1.2" />
<path d="M475.8,406.4 L474.4,404.4 " fill="none" stroke="#666" stroke-width="1.2" />
<path d="M478.2,404.2 L477.2,401.9 " fill="none" stroke="#666" stroke-width="1.2" />
<path d="M480.8,402.4 L480.2,399.9 " fill="none" stroke="#666" stroke-width="1.2" />
<path d="M483.4,401.2 L483.3,398.5 " fill="none" stroke="#666" stroke-width="1.2" />
<path d="M486.0,400.5 L486.3,397.8 " fill="none" stroke="#666" stroke-width="1.2" />
<path d="M488.4,400.5 L489.2,397.7 " fill="none" stroke="#666" stroke-width="1.2" />
<path d="M490.7,401.0 L491.9,398.4 " fill="none" stroke="#666" stroke-width="1.2" />
<path d="M492.7,402.1 L494.3,399.7 " fill="none" stroke="#666" stroke-width="1.2" />
<path d="M494.3,403.8 L496.3,401.6 " fill="none" stroke="#666" stroke-width="1.2" />
<path d="M495.6,405.9 L497.7,404.1 " fill="none" stroke="#666" stroke-width="1.2" />
<path d="M496.4,408.4 L498.7,407.1 " fill="none" stroke="#666" stroke-width="1.2" />
<path d="M496.7,411.3 L499.1,410.5 " fill="none" stroke="#666" stroke-width="1.2" />
<path d="M496.5,414.4 L499.0,414.1 " fill="none" stroke="#666" stroke-width="1.2" />
<path d="M495.9,417.7 L498.3,417.8 " fill="none" stroke="#666" stroke-width="1.2" />
<path d="M494.8,420.9 L497.0,421.5 " fill="none" stroke="#666" stroke-width="1.2" />
<ellipse cx="482.5" cy="418.0" rx="12.4" ry="18.9" transform="rotate(29.19 482.5 418.0)" fill="none" stroke="#5f5f5f" stroke-width="1.3" />
<ellipse cx="483.3" cy="418.4" rx="11.7" ry="18.1" transform="rotate(29.19 483.3 418.4)" fill="none" stroke="#aaa" stroke-width="0.5" />
<path d="M471.0,411.6 L494.5,424.7 " fill="none" stroke="#a6a6a6" stroke-width="1.1" />
<ellipse cx="508.8" cy="432.7" rx="12.5" ry="18.7" transform="rotate(29.19 508.8 432.7)" fill="#707070" stroke="#5a5a5a" stroke-width="0.6" />
<ellipse cx="509.5" cy="433.1" rx="12.5" ry="18.7" transform="rotate(29.19 509.5 433.1)" fill="#9a9a9a" stroke="#5a5a5a" stroke-width="0.8" />
<ellipse cx="510.9" cy="433.5" rx="9.8" ry="15.3" transform="rotate(29.19 510.9 433.5)" fill="#fff" stroke="#5a5a5a" stroke-width="0.8" />
<ellipse cx="509.8" cy="433.2" rx="11.1" ry="17.1" transform="rotate(29.19 509.8 433.2)" fill="none" stroke="#7a7a7a" stroke-width="0.5" />
<path d="M500.0,427.8 L521.0,439.5 " fill="none" stroke="#a6a6a6" stroke-width="1.1" />
<ellipse cx="535.6" cy="447.7" rx="12.0" ry="18.6" transform="rotate(29.19 535.6 447.7)" fill="#707070" stroke="#5a5a5a" stroke-width="0.6" />
<ellipse cx="536.3" cy="448.1" rx="12.0" ry="18.6" transform="rotate(29.19 536.3 448.1)" fill="#9a9a9a" stroke="#5a5a5a" stroke-width="0.8" />
<ellipse cx="537.5" cy="448.4" rx="9.5" ry="15.4" transform="rotate(29.19 537.5 448.4)" fill="#fff" stroke="#5a5a5a" stroke-width="0.8" />
<ellipse cx="536.6" cy="448.2" rx="10.8" ry="17.2" transform="rotate(29.19 536.6 448.2)" fill="none" stroke="#7a7a7a" stroke-width="0.5" />
<path d="M527.0,442.9 L548.0,454.6 " fill="none" stroke="#a6a6a6" stroke-width="1.1" />
<ellipse cx="559.5" cy="461.0" rx="11.2" ry="14.9" transform="rotate(29.19 559.5 461.0)" fill="none" stroke="#5f5f5f" stroke-width="1.4" stroke-dasharray="80 1.5" stroke-dashoffset="-33"/>
<path d="M551.5,456.6 L568.0,465.8 " fill="none" stroke="#a6a6a6" stroke-width="1.1" />
<linearGradient id="g12" gradientUnits="userSpaceOnUse" x1="582.7" y1="466.0" x2="575.9" y2="478.2"><stop offset="0" stop-color="#727272"/><stop offset="0.22" stop-color="#929292"/><stop offset="0.55" stop-color="#727272"/><stop offset="1" stop-color="#565656"/></linearGradient>
<ellipse cx="574.6" cy="469.4" rx="4.5" ry="6.2" transform="rotate(29.19 574.6 469.4)" fill="url(#g12)" stroke="#585858" stroke-width="0.7" />
<path d="M577.6,464.0 L582.1,465.8 L575.4,477.8 L571.6,474.9 Z" fill="url(#g12)" stroke="none" stroke-width="0.8" stroke-linejoin="round" />
<path d="M577.6,464.0 L582.1,465.8 " fill="none" stroke="#585858" stroke-width="0.7" />
<path d="M571.6,474.9 L575.4,477.8 " fill="none" stroke="#585858" stroke-width="0.7" />
<ellipse cx="578.8" cy="471.8" rx="5.0" ry="6.9" transform="rotate(29.19 578.8 471.8)" fill="url(#g12)" stroke="#585858" stroke-width="0.7" />
<ellipse cx="574.6" cy="469.4" rx="4.5" ry="6.2" transform="rotate(29.19 574.6 469.4)" fill="#6c6c6c" stroke="#5a5a5a" stroke-width="0.6" />
<path d="M577.6,464.0 L582.1,465.8 L575.4,477.8 L571.6,474.9 Z" fill="url(#g12)" stroke="none" stroke-width="0.8" stroke-linejoin="round" />
<ellipse cx="578.8" cy="471.8" rx="5.0" ry="6.9" transform="rotate(29.19 578.8 471.8)" fill="#7c7c7c" stroke="#585858" stroke-width="0.6" />
<linearGradient id="g13" gradientUnits="userSpaceOnUse" x1="582.1" y1="467.0" x2="576.5" y2="477.1"><stop offset="0" stop-color="#949494"/><stop offset="0.22" stop-color="#b4b4b4"/><stop offset="0.55" stop-color="#949494"/><stop offset="1" stop-color="#6a6a6a"/></linearGradient>
<ellipse cx="579.0" cy="471.9" rx="4.0" ry="5.6" transform="rotate(29.19 579.0 471.9)" fill="url(#g13)" stroke="#5a5a5a" stroke-width="0.7" />
<path d="M581.7,467.0 L586.3,469.6 L580.8,479.4 L576.2,476.8 Z" fill="url(#g13)" stroke="none" stroke-width="0.8" stroke-linejoin="round" />
<path d="M581.7,467.0 L586.3,469.6 " fill="none" stroke="#5a5a5a" stroke-width="0.7" />
<path d="M576.2,476.8 L580.8,479.4 " fill="none" stroke="#5a5a5a" stroke-width="0.7" />
<ellipse cx="583.6" cy="474.5" rx="4.0" ry="5.6" transform="rotate(29.19 583.6 474.5)" fill="url(#g13)" stroke="#5a5a5a" stroke-width="0.7" />
<ellipse cx="583.6" cy="474.5" rx="4.0" ry="5.6" transform="rotate(29.19 583.6 474.5)" fill="#b4b4b4" stroke="#5e5e5e" stroke-width="0.7" />
<ellipse cx="583.7" cy="474.5" rx="3.0" ry="4.2" transform="rotate(29.19 583.7 474.5)" fill="#8e8e8e" stroke="#6a6a6a" stroke-width="0.5" />
<ellipse cx="583.2" cy="474.6" rx="2.0" ry="2.8" transform="rotate(29.19 583.2 474.6)" fill="#a4a4a4" stroke="#777" stroke-width="0.4" />
<rect x="447.6" y="53.8" width="22.7" height="5.8" rx="0.8" fill="#b8b8b8" stroke="#888" stroke-width="0.5"/>
<path d="M414.7,64.6 Q458,60.6 502.8,65.6 L502.3,72.0 Q458,67.4 415.2,71.6 Z" fill="#b2b2b2" stroke="#8a8a8a" stroke-width="0.6"/>
<path d="M416.2,65.4 Q433,63.6 450.2,63.0 L450.2,69.0 Q433,69.6 416.6,70.8 Z" fill="#fff"/>
<path d="M418.6,69.3 L421,65 L423.4,69.3 Z" fill="#333"/>
<rect x="452" y="64.2" width="5.2" height="4.8" fill="#e8e8e8" stroke="#777" stroke-width="0.4"/>
<rect x="455.4" y="118.5" width="3.8" height="15" rx="0.8" fill="#8a8a8a" stroke="#666" stroke-width="0.4"/>
<rect x="456.1" y="114.2" width="2.4" height="5" rx="1" fill="#777" stroke="#666" stroke-width="0.3"/>
<ellipse cx="452" cy="143.2" rx="1.9" ry="1.0" fill="#ddd" stroke="#777" stroke-width="0.6"/>
<ellipse cx="462.2" cy="143.2" rx="1.9" ry="1.0" fill="#ddd" stroke="#777" stroke-width="0.6"/>
<ellipse cx="456.3" cy="155.4" rx="4.1" ry="2.4" fill="#777" stroke="#555" stroke-width="0.5"/>
<ellipse cx="456.5" cy="155.3" rx="1.7" ry="0.9" fill="#fff" stroke="#555" stroke-width="0.3"/>
<path d="M435,217.6 L476.2,196.2" stroke="#555" stroke-width="3.6" stroke-linecap="round" fill="none"/>
<path d="M435,217.6 L476.2,196.2" stroke="#8c8c8c" stroke-width="2.2" stroke-linecap="round" fill="none"/>
<ellipse cx="434.6" cy="217.8" rx="3.6" ry="2.6" fill="#858585" stroke="#555" stroke-width="0.7" transform="rotate(-27 434.6 217.8)"/>
<ellipse cx="434.6" cy="217.8" rx="1.6" ry="1.0" fill="#666" transform="rotate(-27 434.6 217.8)"/>
<ellipse cx="476.6" cy="196.0" rx="3.6" ry="2.6" fill="#858585" stroke="#555" stroke-width="0.7" transform="rotate(-27 476.6 196.0)"/>
<ellipse cx="476.6" cy="196.0" rx="1.6" ry="1.0" fill="#666" transform="rotate(-27 476.6 196.0)"/>
<linearGradient id="g14" gradientUnits="userSpaceOnUse" x1="428.6" y1="0.0" x2="457.4" y2="0.0"><stop offset="0" stop-color="#5e5e5e"/><stop offset="0.2" stop-color="#8a8a8a"/><stop offset="0.5" stop-color="#999"/><stop offset="0.8" stop-color="#868686"/><stop offset="1" stop-color="#5e5e5e"/></linearGradient>
<path d="M428.6,265.5 C429,272 431,276 431,279 C431,283 429.6,285 429.6,288 A13.4,5.2 0 0 0 456.4,288 C456.4,285 455,283 455,279 C455,276 457,272 457.4,265.5 Z" fill="url(#g14)" stroke="#555" stroke-width="0.7"/>
<ellipse cx="443" cy="265.5" rx="14.4" ry="7.4" fill="#a6a6a6" stroke="#555" stroke-width="0.7"/>
<ellipse cx="443" cy="266.2" rx="12.2" ry="5.8" fill="#7c7c7c" stroke="#5e5e5e" stroke-width="0.6"/>
<ellipse cx="443" cy="268.2" rx="10.6" ry="4.4" fill="#8e8e8e" stroke="#666" stroke-width="0.5"/>
<linearGradient id="g15" gradientUnits="userSpaceOnUse" x1="478.4" y1="0.0" x2="505.0" y2="0.0"><stop offset="0" stop-color="#777"/><stop offset="0.15" stop-color="#aaa"/><stop offset="0.5" stop-color="#c4c4c4"/><stop offset="0.85" stop-color="#a0a0a0"/><stop offset="1" stop-color="#707070"/></linearGradient>
<path d="M479.6,272 L479.6,291 A12.1,4.4 0 0 0 503.8,291 L503.8,272 Z" fill="url(#g15)" stroke="#666" stroke-width="0.7"/>
<path d="M478.6,263.5 L478.6,271.5 A13.1,4.6 0 0 0 504.8,271.5 L504.8,263.5 Z" fill="#ededed" stroke="#777" stroke-width="0.7"/>
<ellipse cx="491.7" cy="263.5" rx="13.1" ry="5.4" fill="#fafafa" stroke="#777" stroke-width="0.7"/>
<path d="M483,279.6 Q491.7,281.8 500.4,279.6 L500.4,292 Q491.7,294.2 483,292 Z" fill="#e9e9e9" stroke="#999" stroke-width="0.3"/>
<path d="M483.4,281.6 Q491.7,283.6 500,281.6 L500,286 Q491.7,288 483.4,286 Z" fill="#2c2c2c"/>
<path d="M484,288.6 Q491.7,290.4 499.4,288.6 M484,290.4 Q491.7,292.2 499.4,290.4" stroke="#888" stroke-width="0.5" fill="none"/>
<circle cx="175.0" cy="8.3" r="5.3" fill="#fff" stroke="#626262" stroke-width="1.1"/>
<circle cx="175.0" cy="30.1" r="5.3" fill="#fff" stroke="#626262" stroke-width="1.1"/>
<circle cx="142.5" cy="67.0" r="5.3" fill="#fff" stroke="#626262" stroke-width="1.1"/>
<circle cx="175.2" cy="119.8" r="5.3" fill="#fff" stroke="#626262" stroke-width="1.1"/>
<circle cx="175.7" cy="155.7" r="5.3" fill="#fff" stroke="#626262" stroke-width="1.1"/>
<circle cx="99.3" cy="112.3" r="5.3" fill="#fff" stroke="#626262" stroke-width="1.1"/>
<circle cx="30.8" cy="196.5" r="5.3" fill="#fff" stroke="#626262" stroke-width="1.1"/>
<circle cx="52.5" cy="209.0" r="5.3" fill="#fff" stroke="#626262" stroke-width="1.1"/>
<circle cx="92.8" cy="232.0" r="5.3" fill="#fff" stroke="#626262" stroke-width="1.1"/>
<circle cx="115.8" cy="186.8" r="5.3" fill="#fff" stroke="#626262" stroke-width="1.1"/>
<circle cx="160.8" cy="201.0" r="5.3" fill="#fff" stroke="#626262" stroke-width="1.1"/>
<circle cx="267.5" cy="272.2" r="5.3" fill="#fff" stroke="#626262" stroke-width="1.1"/>
<circle cx="208.3" cy="296.7" r="5.3" fill="#fff" stroke="#626262" stroke-width="1.1"/>
<circle cx="268.6" cy="372.0" r="5.3" fill="#fff" stroke="#626262" stroke-width="1.1"/>
<circle cx="380.3" cy="323.3" r="5.3" fill="#fff" stroke="#626262" stroke-width="1.1"/>
<circle cx="405.0" cy="336.8" r="5.3" fill="#fff" stroke="#626262" stroke-width="1.1"/>
<circle cx="432.6" cy="351.0" r="5.3" fill="#fff" stroke="#626262" stroke-width="1.1"/>
<circle cx="502.7" cy="352.3" r="5.3" fill="#fff" stroke="#626262" stroke-width="1.1"/>
<circle cx="509.5" cy="394.8" r="5.3" fill="#fff" stroke="#626262" stroke-width="1.1"/>
<circle cx="534.3" cy="409.0" r="5.3" fill="#fff" stroke="#626262" stroke-width="1.1"/>
<circle cx="561.0" cy="423.2" r="5.3" fill="#fff" stroke="#626262" stroke-width="1.1"/>
<circle cx="587.3" cy="438.2" r="5.3" fill="#fff" stroke="#626262" stroke-width="1.1"/>
<circle cx="559.0" cy="492.0" r="5.3" fill="#fff" stroke="#626262" stroke-width="1.1"/>
<circle cx="458.1" cy="32.1" r="5.3" fill="#fff" stroke="#626262" stroke-width="1.1"/>
<circle cx="457.8" cy="93.8" r="5.3" fill="#fff" stroke="#626262" stroke-width="1.1"/>
<circle cx="457.8" cy="184.8" r="5.3" fill="#fff" stroke="#626262" stroke-width="1.1"/>
<circle cx="443.0" cy="240.0" r="5.3" fill="#fff" stroke="#626262" stroke-width="1.1"/>
<circle cx="492.0" cy="240.0" r="5.3" fill="#fff" stroke="#626262" stroke-width="1.1"/>
<circle cx="175.2" cy="119.8" r="12.7" fill="none" stroke="#0097de" stroke-width="2.9"/>
<path d="M125,50.7 L161.5,100.2" stroke="#0097de" stroke-width="2.0" fill="none"/>
<path d="M166,106 L156.3,103.6 L166.5,96 Z" fill="#0097de"/>
</g>
<g filter="url(#softtxt)">
<text x="128.5" y="186.8" font-size="8" class="t" textLength="46.5" lengthAdjust="spacingAndGlyphs">5/32&quot; x 15 pcs.</text>
<text x="227.3" y="246.7" font-size="8" class="t" textLength="47.5" lengthAdjust="spacingAndGlyphs">3/16&quot; x 13 pcs.</text>
<text x="449" y="56.6" font-size="2.4" class="t" style="fill:#fff;stroke:none" textLength="15" lengthAdjust="spacingAndGlyphs">RIM LIMIT</text>
<text x="449" y="59" font-size="2.4" class="t" style="fill:#fff;stroke:none" textLength="17" lengthAdjust="spacingAndGlyphs">MAX. 8 bar</text>
<text x="424" y="69.2" font-size="5.6" class="t" textLength="24.5" lengthAdjust="spacingAndGlyphs" transform="rotate(-2.2 424 69)">WARNING</text>
<text x="453.2" y="68.2" font-size="4" class="t" style="fill:#666;stroke:none">i</text>
<text x="459" y="68.4" font-size="5.2" class="t" style="fill:#fff;stroke:none" textLength="41.5" lengthAdjust="spacingAndGlyphs" transform="rotate(2.4 459 68.4)">DISC BRAKE ONLY!</text>
<text transform="translate(175.0 11.7) scale(0.71 1)" font-size="9.5" text-anchor="middle" class="n">20</text>
<text transform="translate(175.0 33.5) scale(0.71 1)" font-size="9.5" text-anchor="middle" class="n">20</text>
<text transform="translate(142.5 70.4) scale(0.71 1)" font-size="9.5" text-anchor="middle" class="n">19</text>
<text transform="translate(175.2 123.2) scale(0.71 1)" font-size="9.5" text-anchor="middle" class="n">21</text>
<text transform="translate(175.7 159.1) scale(0.71 1)" font-size="9.5" text-anchor="middle" class="n">22</text>
<text transform="translate(99.3 115.7) scale(0.71 1)" font-size="9.5" text-anchor="middle" class="n">18</text>
<text transform="translate(30.8 199.9) scale(0.71 1)" font-size="9.5" text-anchor="middle" class="n">6</text>
<text transform="translate(52.5 212.4) scale(0.71 1)" font-size="9.5" text-anchor="middle" class="n">5</text>
<text transform="translate(92.8 235.4) scale(0.71 1)" font-size="9.5" text-anchor="middle" class="n">4</text>
<text transform="translate(115.8 190.2) scale(0.71 1)" font-size="9.5" text-anchor="middle" class="n">16</text>
<text transform="translate(160.8 204.4) scale(0.71 1)" font-size="9.5" text-anchor="middle" class="n">17</text>
<text transform="translate(267.5 275.6) scale(0.71 1)" font-size="9.5" text-anchor="middle" class="n">15</text>
<text transform="translate(208.3 300.1) scale(0.71 1)" font-size="9.5" text-anchor="middle" class="n">3</text>
<text transform="translate(268.6 375.4) scale(0.71 1)" font-size="9.5" text-anchor="middle" class="n">1</text>
<text transform="translate(380.3 326.7) scale(0.71 1)" font-size="9.5" text-anchor="middle" class="n">14</text>
<text transform="translate(405.0 340.2) scale(0.71 1)" font-size="9.5" text-anchor="middle" class="n">13</text>
<text transform="translate(432.6 354.4) scale(0.71 1)" font-size="9.5" text-anchor="middle" class="n">12</text>
<text transform="translate(502.7 355.7) scale(0.71 1)" font-size="9.5" text-anchor="middle" class="n">10</text>
<text transform="translate(509.5 398.2) scale(0.71 1)" font-size="9.5" text-anchor="middle" class="n">11</text>
<text transform="translate(534.3 412.4) scale(0.71 1)" font-size="9.5" text-anchor="middle" class="n">9</text>
<text transform="translate(561.0 426.6) scale(0.71 1)" font-size="9.5" text-anchor="middle" class="n">8</text>
<text transform="translate(587.3 441.6) scale(0.71 1)" font-size="9.5" text-anchor="middle" class="n">7</text>
<text transform="translate(559.0 495.4) scale(0.71 1)" font-size="9.5" text-anchor="middle" class="n">2</text>
<text transform="translate(458.1 35.5) scale(0.71 1)" font-size="9.5" text-anchor="middle" class="n">23</text>
<text transform="translate(457.8 97.2) scale(0.71 1)" font-size="9.5" text-anchor="middle" class="n">24</text>
<text transform="translate(457.8 188.2) scale(0.71 1)" font-size="9.5" text-anchor="middle" class="n">25</text>
<text transform="translate(443.0 243.4) scale(0.71 1)" font-size="9.5" text-anchor="middle" class="n">26</text>
<text transform="translate(492.0 243.4) scale(0.71 1)" font-size="9.5" text-anchor="middle" class="n">27</text>
</g>
</svg>
</body></html>
